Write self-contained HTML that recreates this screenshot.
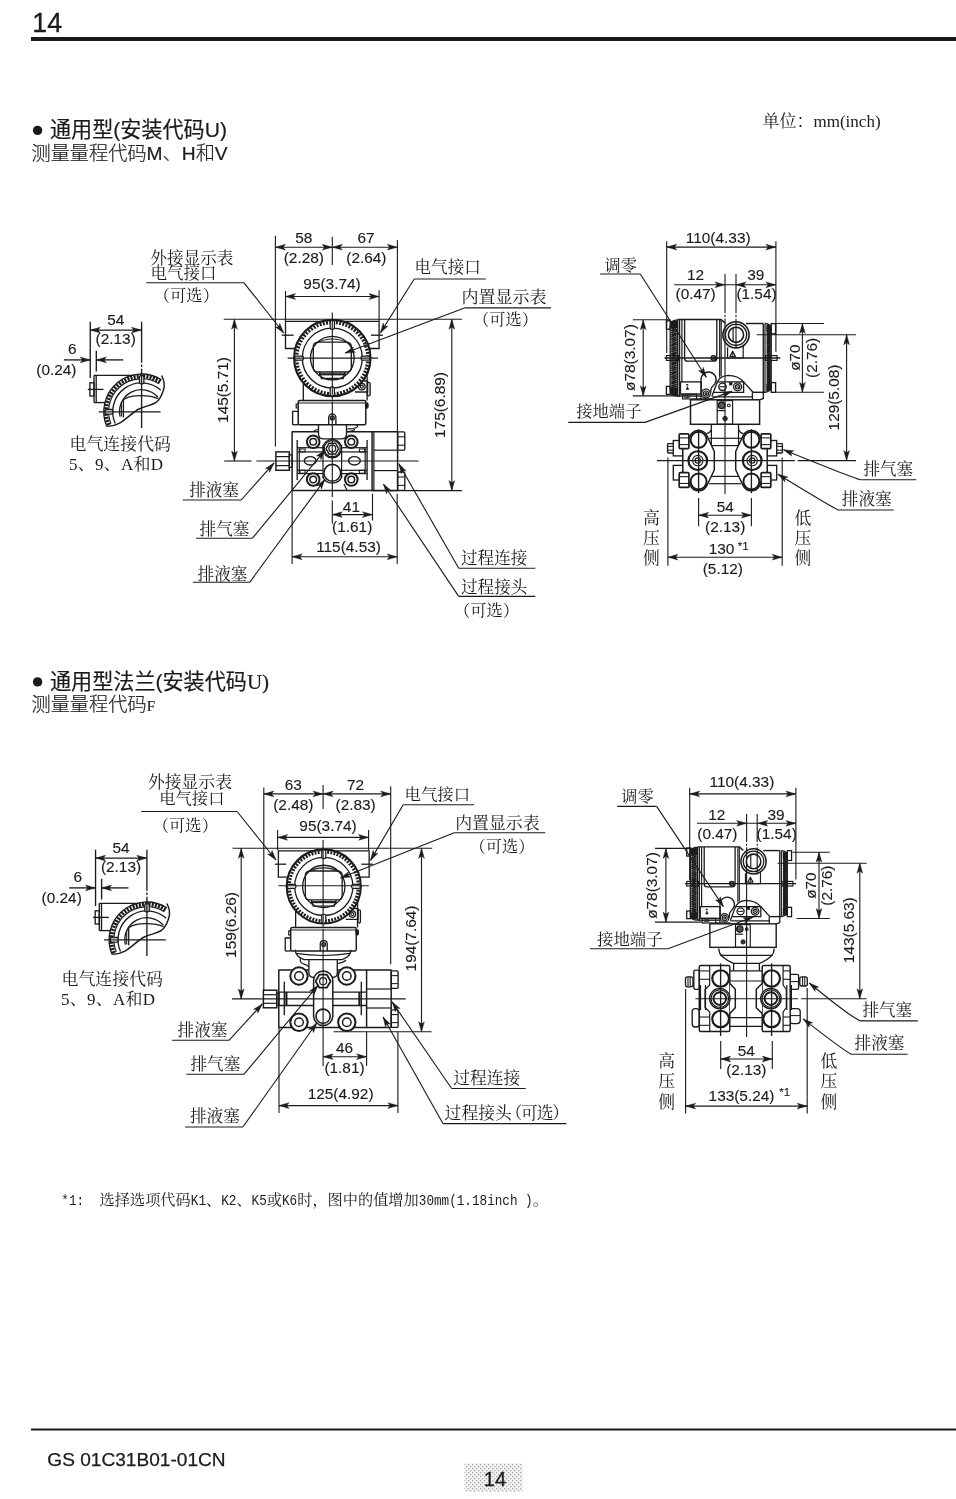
<!DOCTYPE html>
<html lang="zh-CN">
<head>
<meta charset="utf-8">
<title>GS 01C31B01-01CN - 14</title>
<style>
html,body{margin:0;padding:0;background:#fff;}
body{width:956px;height:1499px;overflow:hidden;position:relative;}
svg{position:absolute;left:0;top:0;display:block;will-change:transform;}
text{white-space:pre;}
</style>
</head>
<body>
<svg width="956" height="1499" viewBox="0 0 956 1499">
<text x="32.3" y="31.8" font-family='"Liberation Sans", "Noto Sans CJK SC", sans-serif' font-size="26.8" text-anchor="start" fill="#1b1b1b" stroke="#1b1b1b" stroke-width="0.3">14</text>
<rect x="31" y="37" width="925" height="4" rx="0" fill="#1b1b1b" stroke="#1b1b1b" stroke-width="0"/>
<circle cx="37.6" cy="130.4" r="4.7" fill="#1b1b1b" stroke="#1b1b1b" stroke-width="0"/>
<text x="50" y="137" font-family='"Liberation Sans", "Noto Sans CJK SC", sans-serif' font-size="21.1" text-anchor="start" fill="#1b1b1b" stroke="#1b1b1b" stroke-width="0.2">通用型(安装代码U)</text>
<text x="31.5" y="159.5" font-family='"Liberation Sans", "Noto Sans CJK SC", sans-serif' font-size="19.2" text-anchor="start" fill="#1b1b1b" font-weight="300" stroke="#1b1b1b" stroke-width="0.2">测量量程代码M、H和V</text>
<text x="762.5" y="126.8" font-family='"Liberation Serif", "Noto Serif CJK SC", serif' font-size="17" text-anchor="start" fill="#1b1b1b" >单位：mm(inch)</text>
<circle cx="37.6" cy="681.9" r="4.7" fill="#1b1b1b" stroke="#1b1b1b" stroke-width="0"/>
<text x="50" y="688.5" font-family='"Liberation Sans", "Noto Sans CJK SC", sans-serif' font-size="21.1" text-anchor="start" fill="#1b1b1b" stroke="#1b1b1b" stroke-width="0.2">通用型法兰(安装代码<tspan font-family='"Liberation Serif",serif'>U)</tspan></text>
<text x="31.5" y="711" font-family='"Liberation Sans", "Noto Sans CJK SC", sans-serif' font-size="19.2" text-anchor="start" fill="#1b1b1b" font-weight="300" stroke="#1b1b1b" stroke-width="0.2">测量量程代码<tspan font-family='"Liberation Serif",serif' font-size="15">F</tspan></text>
<text transform="translate(61.3 1205.4) scale(1 1.16)" font-family='"Liberation Mono", monospace' font-size="12.66" fill="#1b1b1b">*1:</text>
<text x="99.6" y="1205.4" font-family='"Noto Serif CJK SC", serif' font-size="15.2" fill="#1b1b1b">选择选项代码</text>
<text transform="translate(190.8 1205.4) scale(1 1.16)" font-family='"Liberation Mono", monospace' font-size="12.66" fill="#1b1b1b">K1</text>
<text x="206" y="1205.4" font-family='"Noto Serif CJK SC", serif' font-size="15.2" fill="#1b1b1b">、</text>
<text transform="translate(221.2 1205.4) scale(1 1.16)" font-family='"Liberation Mono", monospace' font-size="12.66" fill="#1b1b1b">K2</text>
<text x="236.4" y="1205.4" font-family='"Noto Serif CJK SC", serif' font-size="15.2" fill="#1b1b1b">、</text>
<text transform="translate(251.6 1205.4) scale(1 1.16)" font-family='"Liberation Mono", monospace' font-size="12.66" fill="#1b1b1b">K5</text>
<text x="266.8" y="1205.4" font-family='"Noto Serif CJK SC", serif' font-size="15.2" fill="#1b1b1b">或</text>
<text transform="translate(282 1205.4) scale(1 1.16)" font-family='"Liberation Mono", monospace' font-size="12.66" fill="#1b1b1b">K6</text>
<text x="297.2" y="1205.4" font-family='"Noto Serif CJK SC", serif' font-size="15.2" fill="#1b1b1b">时，图中的值增加</text>
<text transform="translate(418.8 1205.4) scale(1 1.16)" font-family='"Liberation Mono", monospace' font-size="12.66" fill="#1b1b1b">30mm(1.18inch )</text>
<text x="532.8" y="1205.4" font-family='"Noto Serif CJK SC", serif' font-size="15.2" fill="#1b1b1b">。</text>
<line x1="31" y1="1429.5" x2="956" y2="1429.5" stroke="#1b1b1b" stroke-width="1.79"/>
<text x="47.3" y="1466" font-family='"Liberation Sans", "Noto Sans CJK SC", sans-serif' font-size="19.1" text-anchor="start" fill="#1b1b1b" stroke="#1b1b1b" stroke-width="0.25">GS 01C31B01-01CN</text>
<defs><pattern id="dots" width="4" height="4" patternUnits="userSpaceOnUse"><rect width="4" height="4" fill="#f4f4f4"/><rect x="0" y="0" width="1.3" height="1.3" fill="#a8a8a8"/><rect x="2" y="2" width="1.3" height="1.3" fill="#a8a8a8"/></pattern></defs>
<rect x="464.5" y="1463.5" width="58" height="28.5" fill="url(#dots)"/>
<text x="495" y="1485.8" font-family='"Liberation Sans", "Noto Sans CJK SC", sans-serif' font-size="20.2" text-anchor="middle" fill="#1b1b1b" stroke="#1b1b1b" stroke-width="0.3">14</text>
<line x1="94" y1="375.4" x2="133" y2="375.4" stroke="#1b1b1b" stroke-width="1.34"/>
<line x1="94" y1="375.3" x2="94" y2="402.6" stroke="#1b1b1b" stroke-width="1.34"/>
<line x1="96.2" y1="375.3" x2="96.2" y2="402.6" stroke="#1b1b1b" stroke-width="1.34"/>
<line x1="94" y1="402.6" x2="105.5" y2="402.6" stroke="#1b1b1b" stroke-width="1.34"/>
<rect x="89.9" y="382.8" width="4.1" height="13.2" rx="0" fill="none" stroke="#1b1b1b" stroke-width="1.34"/>
<line x1="87.8" y1="389.4" x2="103.5" y2="389.4" stroke="#1b1b1b" stroke-width="1.34"/>
<path d="M106.8 426.43 A37.7 37.7 0 0 1 161.48 379.73" fill="none" stroke="#1b1b1b" stroke-width="1.34" />
<path d="M110.22 423.4 L106.47 424.8 M109.28 420.5 L105.42 421.55 M108.61 417.53 L104.67 418.23 M108.22 414.51 L104.23 414.85 M108.1 411.47 L104.1 411.45 M108.26 408.43 L104.28 408.04 M108.7 405.42 L104.77 404.67 M109.4 402.46 L105.56 401.36 M110.38 399.58 L106.65 398.13 M111.61 396.8 L108.03 395.01 M113.09 394.14 L109.69 392.04 M114.81 391.63 L111.61 389.22 M116.74 389.28 L113.78 386.59 M118.89 387.12 L116.18 384.17 M121.22 385.16 L118.79 381.98 M123.72 383.43 L121.59 380.04 M126.37 381.93 L124.55 378.36 M129.14 380.67 L127.66 376.96 M132.01 379.68 L130.88 375.84 M134.97 378.94 L134.19 375.02 M137.98 378.49 L137.55 374.51 M141.01 378.3 L140.96 374.3 M144.06 378.4 L144.36 374.41 M147.08 378.77 L147.74 374.82 M150.05 379.41 L151.07 375.55 M152.95 380.33 L154.33 376.57 M155.76 381.5 L157.47 377.88 M158.45 382.92 L160.48 379.48" fill="none" stroke="#1b1b1b" stroke-width="2.08" />
<path d="M111 424.02 A32.9 32.9 0 0 1 158.93 383.8" fill="none" stroke="#1b1b1b" stroke-width="1.07" />
<path d="M115.19 423.41 A28.8 28.8 0 0 1 160.77 390.3" fill="none" stroke="#1b1b1b" stroke-width="1.34" />
<path d="M120.06 416.65 A22 22 0 0 1 157.85 396.98" fill="none" stroke="#1b1b1b" stroke-width="1.34" />
<path d="M161.6 375.5 C164.5 381 165 386 163.3 390.5 C161.5 395.5 160.5 399.5 156 402.5 C151 405.5 145 406.2 139 409 C129 414 122 426.5 107.2 426.2" fill="none" stroke="#1b1b1b" stroke-width="1.47" />
<path d="M123.6 399.5 C131 394.5 149 394.5 158.3 398.6" fill="none" stroke="#1b1b1b" stroke-width="1.34" />
<line x1="123.4" y1="399.5" x2="123.4" y2="417.3" stroke="#1b1b1b" stroke-width="1.34"/>
<line x1="121.4" y1="402.5" x2="121.4" y2="416.5" stroke="#1b1b1b" stroke-width="1.07"/>
<rect x="139.5" y="375.6" width="4.4" height="8.2" rx="1.5" fill="#fff" stroke="#1b1b1b" stroke-width="1.34"/>
<rect x="105" y="409.5" width="8" height="4.6" rx="1.5" fill="#fff" stroke="#1b1b1b" stroke-width="1.34"/>
<line x1="98.7" y1="411.9" x2="160.5" y2="411.9" stroke="#1b1b1b" stroke-width="1.34"/>
<line x1="141.6" y1="321.7" x2="141.6" y2="428" stroke="#1b1b1b" stroke-width="1.34" stroke-dasharray="41 1.8 2.4 1.8 100"/>
<line x1="90.25" y1="321.7" x2="90.25" y2="378" stroke="#1b1b1b" stroke-width="1.34"/>
<line x1="90.25" y1="330.1" x2="141.5" y2="330.1" stroke="#1b1b1b" stroke-width="1.34"/>
<path d="M90.25 330.1 L100.25 327.2 L98.05 330.1 L100.25 333 Z" fill="#1b1b1b" stroke="#1b1b1b" stroke-width="0.4"/>
<path d="M141.5 330.1 L131.5 333 L133.7 330.1 L131.5 327.2 Z" fill="#1b1b1b" stroke="#1b1b1b" stroke-width="0.4"/>
<text x="0" y="0" transform="translate(115.7 324.6) scale(1.1 1)" font-family='"Liberation Sans", "Noto Sans CJK SC", sans-serif' font-size="14" text-anchor="middle" fill="#1b1b1b" stroke="#1b1b1b" stroke-width="0.12">54</text>
<text x="0" y="0" transform="translate(115.7 344.2) scale(1.1 1)" font-family='"Liberation Sans", "Noto Sans CJK SC", sans-serif' font-size="14" text-anchor="middle" fill="#1b1b1b" stroke="#1b1b1b" stroke-width="0.12">(2.13)</text>
<text x="0" y="0" transform="translate(72.4 354.4) scale(1.1 1)" font-family='"Liberation Sans", "Noto Sans CJK SC", sans-serif' font-size="14" text-anchor="middle" fill="#1b1b1b" stroke="#1b1b1b" stroke-width="0.12">6</text>
<text x="0" y="0" transform="translate(56.4 374.6) scale(1.1 1)" font-family='"Liberation Sans", "Noto Sans CJK SC", sans-serif' font-size="14" text-anchor="middle" fill="#1b1b1b" stroke="#1b1b1b" stroke-width="0.12">(0.24)</text>
<line x1="63.9" y1="359.9" x2="90.25" y2="359.9" stroke="#1b1b1b" stroke-width="1.34"/>
<path d="M90.25 359.9 L80.25 362.8 L82.45 359.9 L80.25 357 Z" fill="#1b1b1b" stroke="#1b1b1b" stroke-width="0.4"/>
<line x1="96.3" y1="359.9" x2="123.2" y2="359.9" stroke="#1b1b1b" stroke-width="1.34"/>
<path d="M96.3 359.9 L106.3 357 L104.1 359.9 L106.3 362.8 Z" fill="#1b1b1b" stroke="#1b1b1b" stroke-width="0.4"/>
<line x1="96.3" y1="350.8" x2="96.3" y2="371.5" stroke="#1b1b1b" stroke-width="1.34"/>
<text x="69.6" y="450" font-family='"Noto Serif CJK SC", "Liberation Serif", serif' font-size="16.9" text-anchor="start" fill="#1b1b1b" >电气连接代码</text>
<text x="69" y="469.5" font-family='"Liberation Serif", "Noto Serif CJK SC", serif' font-size="17" text-anchor="start" fill="#1b1b1b" letter-spacing="0.25">5、9、A和D</text>
<path d="M296 348.5 L285.5 348.5 L285.5 321.4 L322 321.4" fill="none" stroke="#1b1b1b" stroke-width="1.34" />
<path d="M368.6 348.5 L379.1 348.5 L379.1 321.4 L342.6 321.4" fill="none" stroke="#1b1b1b" stroke-width="1.34" />
<line x1="281.8" y1="335.2" x2="293.6" y2="335.2" stroke="#1b1b1b" stroke-width="1.34"/>
<line x1="371" y1="335.2" x2="382.8" y2="335.2" stroke="#1b1b1b" stroke-width="1.34"/>
<circle cx="332.3" cy="358.1" r="38.2" fill="none" stroke="#1b1b1b" stroke-width="2.14"/>
<circle cx="332.3" cy="358.1" r="35.6" fill="none" stroke="#1b1b1b" stroke-width="3.35" stroke-dasharray="1.95 1.3399"/>
<circle cx="332.3" cy="358.1" r="30" fill="none" stroke="#1b1b1b" stroke-width="1.34"/>
<circle cx="332.3" cy="358.1" r="21.8" fill="none" stroke="#1b1b1b" stroke-width="1.34"/>
<rect x="330.2" y="320.4" width="4.2" height="9.0" rx="1.7" fill="#fff" stroke="#1b1b1b" stroke-width="1.25" transform="rotate(0 332.3 358.1)"/>
<rect x="330.2" y="320.4" width="4.2" height="9.0" rx="1.7" fill="#fff" stroke="#1b1b1b" stroke-width="1.25" transform="rotate(90 332.3 358.1)"/>
<rect x="330.2" y="320.4" width="4.2" height="9.0" rx="1.7" fill="#fff" stroke="#1b1b1b" stroke-width="1.25" transform="rotate(180 332.3 358.1)"/>
<rect x="330.2" y="320.4" width="4.2" height="9.0" rx="1.7" fill="#fff" stroke="#1b1b1b" stroke-width="1.25" transform="rotate(270 332.3 358.1)"/>
<path d="M313.3 346.5 Q313.3 342.6 318 342.2 L346.6 342.2 Q351.3 342.6 351.3 346.5 L351.3 368 Q351.3 372 346.6 372 L318 372 Q313.3 372 313.3 368 Z" fill="none" stroke="#1b1b1b" stroke-width="1.34" />
<path d="M315.5 343.5 Q332.3 334.5 349.1 343.5" fill="none" stroke="#1b1b1b" stroke-width="1.21" />
<path d="M319.5 372 L321.5 378.5 L343.1 378.5 L345.1 372" fill="none" stroke="#1b1b1b" stroke-width="1.34" />
<line x1="319" y1="374.3" x2="345.6" y2="374.3" stroke="#1b1b1b" stroke-width="2.14"/>
<line x1="303.3" y1="383.8" x2="303.3" y2="400.4" stroke="#1b1b1b" stroke-width="1.34"/>
<line x1="367.1" y1="372" x2="367.1" y2="400.4" stroke="#1b1b1b" stroke-width="1.34"/>
<circle cx="361.8" cy="386.6" r="3.3" fill="none" stroke="#1b1b1b" stroke-width="1.34"/>
<circle cx="361.8" cy="386.6" r="1.5" fill="none" stroke="#1b1b1b" stroke-width="1.21"/>
<path d="M355 392 L367.5 392 L367.5 381 L364 381" fill="none" stroke="#1b1b1b" stroke-width="1.34" />
<rect x="367.5" y="382.3" width="2.6" height="13.5" rx="1.2" fill="none" stroke="#1b1b1b" stroke-width="1.34"/>
<rect x="298.2" y="400.4" width="67.6" height="24.3" rx="1.5" fill="none" stroke="#1b1b1b" stroke-width="1.47"/>
<line x1="298.2" y1="403" x2="365.8" y2="403" stroke="#1b1b1b" stroke-width="1.07"/>
<path d="M298.2 411.3 L292.6 411.3 L292.6 424.7" fill="none" stroke="#1b1b1b" stroke-width="1.34" />
<line x1="292.6" y1="424.7" x2="298.2" y2="424.7" stroke="#1b1b1b" stroke-width="1.34"/>
<path d="M298.2 404 L296.2 404 L296.2 408 L298.2 408" fill="none" stroke="#1b1b1b" stroke-width="1.21" />
<ellipse cx="366.8" cy="405.5" rx="1.3" ry="2.6" fill="#1b1b1b" stroke="#1b1b1b" stroke-width="1.21"/>
<path d="M328.7 424.7 L328.7 417.5 A3.6 3.6 0 0 1 335.9 417.5 L335.9 424.7" fill="none" stroke="#1b1b1b" stroke-width="1.34" />
<circle cx="332.3" cy="417.9" r="2" fill="#777" stroke="#1b1b1b" stroke-width="1.21"/>
<path d="M318.5 431.8 L292.1 431.8 L292.1 490.4 L372.1 490.4 L372.1 431.8 L346.5 431.8" fill="none" stroke="#1b1b1b" stroke-width="1.47" stroke-linejoin="round"/>
<path d="M318.5 424.7 L318.5 434 Q318.5 438.9 323.5 438.9 L341.3 438.9 Q346.5 438.9 346.5 434 L346.5 424.7" fill="none" stroke="#1b1b1b" stroke-width="1.34" />
<path d="M318.5 429.5 Q314.5 429.5 313.5 431.8" fill="none" stroke="#1b1b1b" stroke-width="1.21" />
<path d="M346.5 429 Q354 429 357 427.3 Q358.5 426 356 424.7" fill="none" stroke="#1b1b1b" stroke-width="1.21" />
<path d="M346.5 431.8 Q352 431.5 355 429.5" fill="none" stroke="#1b1b1b" stroke-width="1.21" />
<line x1="297.2" y1="440" x2="297.2" y2="480" stroke="#1b1b1b" stroke-width="1.34"/>
<line x1="367.1" y1="440" x2="367.1" y2="480" stroke="#1b1b1b" stroke-width="1.34"/>
<line x1="299.3" y1="447.7" x2="299.3" y2="473.6" stroke="#1b1b1b" stroke-width="1.21"/>
<line x1="365.2" y1="447.7" x2="365.2" y2="473.6" stroke="#1b1b1b" stroke-width="1.21"/>
<line x1="297.2" y1="447.7" x2="323" y2="447.7" stroke="#1b1b1b" stroke-width="1.21"/>
<line x1="341.6" y1="447.7" x2="367.1" y2="447.7" stroke="#1b1b1b" stroke-width="1.21"/>
<line x1="297.2" y1="451.9" x2="323" y2="451.9" stroke="#1b1b1b" stroke-width="1.21"/>
<line x1="341.6" y1="451.9" x2="367.1" y2="451.9" stroke="#1b1b1b" stroke-width="1.21"/>
<line x1="297.2" y1="470.3" x2="323" y2="470.3" stroke="#1b1b1b" stroke-width="1.21"/>
<line x1="341.6" y1="470.3" x2="367.1" y2="470.3" stroke="#1b1b1b" stroke-width="1.21"/>
<line x1="297.2" y1="473.6" x2="323" y2="473.6" stroke="#1b1b1b" stroke-width="1.21"/>
<line x1="341.6" y1="473.6" x2="367.1" y2="473.6" stroke="#1b1b1b" stroke-width="1.21"/>
<rect x="299.9" y="449" width="5.2" height="2.9" rx="0" fill="none" stroke="#1b1b1b" stroke-width="1.07"/>
<rect x="299.9" y="470.3" width="5.2" height="2.9" rx="0" fill="none" stroke="#1b1b1b" stroke-width="1.07"/>
<rect x="359.4" y="449" width="5.2" height="2.9" rx="0" fill="none" stroke="#1b1b1b" stroke-width="1.07"/>
<rect x="359.4" y="470.3" width="5.2" height="2.9" rx="0" fill="none" stroke="#1b1b1b" stroke-width="1.07"/>
<ellipse cx="310.2" cy="460.8" rx="5.9" ry="4.2" fill="none" stroke="#1b1b1b" stroke-width="1.34"/>
<ellipse cx="354.4" cy="460.8" rx="5.9" ry="4.2" fill="none" stroke="#1b1b1b" stroke-width="1.34"/>
<line x1="323" y1="445" x2="323" y2="478" stroke="#1b1b1b" stroke-width="1.21"/>
<line x1="341.6" y1="445" x2="341.6" y2="478" stroke="#1b1b1b" stroke-width="1.21"/>
<circle cx="313.2" cy="441.8" r="6.3" fill="#fff" stroke="#1b1b1b" stroke-width="2.03"/>
<circle cx="313.2" cy="441.8" r="3.3" fill="none" stroke="#1b1b1b" stroke-width="1.47"/>
<circle cx="351.3" cy="441.8" r="6.3" fill="#fff" stroke="#1b1b1b" stroke-width="2.03"/>
<circle cx="351.3" cy="441.8" r="3.3" fill="none" stroke="#1b1b1b" stroke-width="1.47"/>
<circle cx="313.2" cy="479.5" r="6.3" fill="#fff" stroke="#1b1b1b" stroke-width="2.03"/>
<circle cx="313.2" cy="479.5" r="3.3" fill="none" stroke="#1b1b1b" stroke-width="1.47"/>
<circle cx="351.3" cy="479.5" r="6.3" fill="#fff" stroke="#1b1b1b" stroke-width="2.03"/>
<circle cx="351.3" cy="479.5" r="3.3" fill="none" stroke="#1b1b1b" stroke-width="1.47"/>
<circle cx="332.3" cy="448.6" r="9.2" fill="#fff" stroke="#1b1b1b" stroke-width="1.47"/>
<circle cx="332.3" cy="448.6" r="8" fill="none" stroke="#1b1b1b" stroke-width="1.07"/>
<path d="M338.6 448.6 L335.45 454.06 L329.15 454.06 L326 448.6 L329.15 443.14 L335.45 443.14 Z" fill="none" stroke="#1b1b1b" stroke-width="1.47" stroke-linejoin="round"/>
<circle cx="332.3" cy="448.6" r="3.4" fill="none" stroke="#1b1b1b" stroke-width="1.21"/>
<circle cx="332.3" cy="472.8" r="8.4" fill="#fff" stroke="#1b1b1b" stroke-width="1.61"/>
<path d="M341.98 476.32 A10.3 10.3 0 0 1 322.62 476.32" fill="none" stroke="#1b1b1b" stroke-width="1.34" />
<path d="M344 484 L347 490.4" fill="none" stroke="#1b1b1b" stroke-width="1.21" />
<rect x="275.9" y="451.9" width="13.4" height="18.4" rx="0" fill="#fff" stroke="#1b1b1b" stroke-width="1.47"/>
<line x1="275.9" y1="456.6" x2="289.3" y2="456.6" stroke="#1b1b1b" stroke-width="1.21"/>
<line x1="275.9" y1="465.6" x2="289.3" y2="465.6" stroke="#1b1b1b" stroke-width="1.21"/>
<rect x="289.3" y="454.8" width="2.8" height="12.6" rx="0" fill="none" stroke="#1b1b1b" stroke-width="1.21"/>
<line x1="373.9" y1="431.8" x2="373.9" y2="490.4" stroke="#1b1b1b" stroke-width="1.21"/>
<path d="M372.1 431.8 L397.6 431.8 L397.6 490.4 L372.1 490.4" fill="none" stroke="#1b1b1b" stroke-width="1.47" stroke-linejoin="round"/>
<line x1="373.9" y1="450.2" x2="397.6" y2="450.2" stroke="#1b1b1b" stroke-width="1.21"/>
<line x1="373.9" y1="470.6" x2="397.6" y2="470.6" stroke="#1b1b1b" stroke-width="1.21"/>
<rect x="397.6" y="431.8" width="7.2" height="18.4" rx="1.2" fill="none" stroke="#1b1b1b" stroke-width="1.34"/>
<line x1="397.6" y1="436.8" x2="404.8" y2="436.8" stroke="#1b1b1b" stroke-width="1.07"/>
<line x1="397.6" y1="445.2" x2="404.8" y2="445.2" stroke="#1b1b1b" stroke-width="1.07"/>
<rect x="397.6" y="472" width="7.2" height="18.4" rx="1.2" fill="none" stroke="#1b1b1b" stroke-width="1.34"/>
<line x1="397.6" y1="477" x2="404.8" y2="477" stroke="#1b1b1b" stroke-width="1.07"/>
<line x1="397.6" y1="485.4" x2="404.8" y2="485.4" stroke="#1b1b1b" stroke-width="1.07"/>
<line x1="332.3" y1="312.5" x2="332.3" y2="497" stroke="#1b1b1b" stroke-width="1.12" stroke-dasharray="82 2 3 2 200"/>
<line x1="287.6" y1="358.1" x2="378" y2="358.1" stroke="#1b1b1b" stroke-width="1.12"/>
<line x1="224.2" y1="461" x2="251.5" y2="461" stroke="#1b1b1b" stroke-width="1.12"/>
<line x1="256.3" y1="461" x2="418.6" y2="461" stroke="#1b1b1b" stroke-width="1.12"/>
<line x1="275.4" y1="235.7" x2="275.4" y2="446.4" stroke="#1b1b1b" stroke-width="1.12"/>
<line x1="397.4" y1="240" x2="397.4" y2="431" stroke="#1b1b1b" stroke-width="1.12"/>
<line x1="332.3" y1="236.7" x2="332.3" y2="265" stroke="#1b1b1b" stroke-width="1.12"/>
<line x1="275.4" y1="247.2" x2="332.3" y2="247.2" stroke="#1b1b1b" stroke-width="1.12"/>
<path d="M275.4 247.2 L285.4 244.3 L283.2 247.2 L285.4 250.1 Z" fill="#1b1b1b" stroke="#1b1b1b" stroke-width="0.4"/>
<path d="M332.3 247.2 L322.3 250.1 L324.5 247.2 L322.3 244.3 Z" fill="#1b1b1b" stroke="#1b1b1b" stroke-width="0.4"/>
<line x1="332.3" y1="247.2" x2="397.4" y2="247.2" stroke="#1b1b1b" stroke-width="1.12"/>
<path d="M332.3 247.2 L342.3 244.3 L340.1 247.2 L342.3 250.1 Z" fill="#1b1b1b" stroke="#1b1b1b" stroke-width="0.4"/>
<path d="M397.4 247.2 L387.4 250.1 L389.6 247.2 L387.4 244.3 Z" fill="#1b1b1b" stroke="#1b1b1b" stroke-width="0.4"/>
<text x="0" y="0" transform="translate(303.8 243.2) scale(1.1 1)" font-family='"Liberation Sans", "Noto Sans CJK SC", sans-serif' font-size="14" text-anchor="middle" fill="#1b1b1b" stroke="#1b1b1b" stroke-width="0.12">58</text>
<text x="0" y="0" transform="translate(303.8 263) scale(1.1 1)" font-family='"Liberation Sans", "Noto Sans CJK SC", sans-serif' font-size="14" text-anchor="middle" fill="#1b1b1b" stroke="#1b1b1b" stroke-width="0.12">(2.28)</text>
<text x="0" y="0" transform="translate(366 243.2) scale(1.1 1)" font-family='"Liberation Sans", "Noto Sans CJK SC", sans-serif' font-size="14" text-anchor="middle" fill="#1b1b1b" stroke="#1b1b1b" stroke-width="0.12">67</text>
<text x="0" y="0" transform="translate(366.4 263) scale(1.1 1)" font-family='"Liberation Sans", "Noto Sans CJK SC", sans-serif' font-size="14" text-anchor="middle" fill="#1b1b1b" stroke="#1b1b1b" stroke-width="0.12">(2.64)</text>
<line x1="285.5" y1="291" x2="285.5" y2="321.4" stroke="#1b1b1b" stroke-width="1.12"/>
<line x1="379.1" y1="290.3" x2="379.1" y2="321.4" stroke="#1b1b1b" stroke-width="1.12"/>
<line x1="285.5" y1="296.5" x2="379.1" y2="296.5" stroke="#1b1b1b" stroke-width="1.12"/>
<path d="M285.5 296.5 L295.5 293.6 L293.3 296.5 L295.5 299.4 Z" fill="#1b1b1b" stroke="#1b1b1b" stroke-width="0.4"/>
<path d="M379.1 296.5 L369.1 299.4 L371.3 296.5 L369.1 293.6 Z" fill="#1b1b1b" stroke="#1b1b1b" stroke-width="0.4"/>
<text x="0" y="0" transform="translate(332 289.2) scale(1.1 1)" font-family='"Liberation Sans", "Noto Sans CJK SC", sans-serif' font-size="14" text-anchor="middle" fill="#1b1b1b" stroke="#1b1b1b" stroke-width="0.12">95(3.74)</text>
<line x1="223.7" y1="319.2" x2="461.9" y2="319.2" stroke="#1b1b1b" stroke-width="1.12"/>
<line x1="234.4" y1="319.2" x2="234.4" y2="461" stroke="#1b1b1b" stroke-width="1.12"/>
<path d="M234.4 319.2 L237.3 329.2 L234.4 327 L231.5 329.2 Z" fill="#1b1b1b" stroke="#1b1b1b" stroke-width="0.4"/>
<path d="M234.4 461 L231.5 451 L234.4 453.2 L237.3 451 Z" fill="#1b1b1b" stroke="#1b1b1b" stroke-width="0.4"/>
<text x="0" y="0" transform="translate(228.3 390) rotate(-90) scale(1.1 1)" font-family='"Liberation Sans", "Noto Sans CJK SC", sans-serif' font-size="14" text-anchor="middle" fill="#1b1b1b" stroke="#1b1b1b" stroke-width="0.12">145(5.71)</text>
<line x1="451.8" y1="319.2" x2="451.8" y2="490.6" stroke="#1b1b1b" stroke-width="1.12"/>
<path d="M451.8 319.2 L454.7 329.2 L451.8 327 L448.9 329.2 Z" fill="#1b1b1b" stroke="#1b1b1b" stroke-width="0.4"/>
<path d="M451.8 490.6 L448.9 480.6 L451.8 482.8 L454.7 480.6 Z" fill="#1b1b1b" stroke="#1b1b1b" stroke-width="0.4"/>
<text x="0" y="0" transform="translate(445 405) rotate(-90) scale(1.1 1)" font-family='"Liberation Sans", "Noto Sans CJK SC", sans-serif' font-size="14" text-anchor="middle" fill="#1b1b1b" stroke="#1b1b1b" stroke-width="0.12">175(6.89)</text>
<line x1="372.1" y1="490.6" x2="461.9" y2="490.6" stroke="#1b1b1b" stroke-width="1.12"/>
<line x1="332.3" y1="500.4" x2="332.3" y2="523.8" stroke="#1b1b1b" stroke-width="1.12"/>
<line x1="372.5" y1="493.7" x2="372.5" y2="520.5" stroke="#1b1b1b" stroke-width="1.12"/>
<line x1="332.3" y1="514.6" x2="372.5" y2="514.6" stroke="#1b1b1b" stroke-width="1.12"/>
<path d="M332.3 514.6 L342.3 511.7 L340.1 514.6 L342.3 517.5 Z" fill="#1b1b1b" stroke="#1b1b1b" stroke-width="0.4"/>
<path d="M372.5 514.6 L362.5 517.5 L364.7 514.6 L362.5 511.7 Z" fill="#1b1b1b" stroke="#1b1b1b" stroke-width="0.4"/>
<text x="0" y="0" transform="translate(351.4 512.2) scale(1.1 1)" font-family='"Liberation Sans", "Noto Sans CJK SC", sans-serif' font-size="14" text-anchor="middle" fill="#1b1b1b" stroke="#1b1b1b" stroke-width="0.12">41</text>
<text x="0" y="0" transform="translate(352.2 531.5) scale(1.1 1)" font-family='"Liberation Sans", "Noto Sans CJK SC", sans-serif' font-size="14" text-anchor="middle" fill="#1b1b1b" stroke="#1b1b1b" stroke-width="0.12">(1.61)</text>
<line x1="292.1" y1="490.4" x2="292.1" y2="564" stroke="#1b1b1b" stroke-width="1.12"/>
<line x1="397.2" y1="493.7" x2="397.2" y2="564" stroke="#1b1b1b" stroke-width="1.12"/>
<line x1="292.1" y1="556.8" x2="397.2" y2="556.8" stroke="#1b1b1b" stroke-width="1.12"/>
<path d="M292.1 556.8 L302.1 553.9 L299.9 556.8 L302.1 559.7 Z" fill="#1b1b1b" stroke="#1b1b1b" stroke-width="0.4"/>
<path d="M397.2 556.8 L387.2 559.7 L389.4 556.8 L387.2 553.9 Z" fill="#1b1b1b" stroke="#1b1b1b" stroke-width="0.4"/>
<text x="0" y="0" transform="translate(348.5 552.4) scale(1.1 1)" font-family='"Liberation Sans", "Noto Sans CJK SC", sans-serif' font-size="14" text-anchor="middle" fill="#1b1b1b" stroke="#1b1b1b" stroke-width="0.12">115(4.53)</text>
<text x="150.5" y="263.6" font-family='"Noto Serif CJK SC", "Liberation Serif", serif' font-size="16.6" text-anchor="start" fill="#1b1b1b" >外接显示表</text>
<text x="150.5" y="279.2" font-family='"Noto Serif CJK SC", "Liberation Serif", serif' font-size="16.5" text-anchor="start" fill="#1b1b1b" >电气接口</text>
<text x="153.8" y="300.5" font-family='"Noto Serif CJK SC", "Liberation Serif", serif' font-size="16.3" text-anchor="start" fill="#1b1b1b" >（可选）</text>
<line x1="146.3" y1="282.8" x2="244" y2="282.8" stroke="#1b1b1b" stroke-width="1.12"/>
<line x1="244" y1="282.8" x2="283.7" y2="333" stroke="#1b1b1b" stroke-width="1.12"/>
<path d="M283.7 333 L275.22 326.96 L278.86 326.88 L279.77 323.36 Z" fill="#1b1b1b" stroke="#1b1b1b" stroke-width="0.4"/>
<text x="414.5" y="272.8" font-family='"Noto Serif CJK SC", "Liberation Serif", serif' font-size="16.6" text-anchor="start" fill="#1b1b1b" >电气接口</text>
<line x1="414.2" y1="279" x2="485.7" y2="279" stroke="#1b1b1b" stroke-width="1.12"/>
<line x1="414.2" y1="279" x2="380.3" y2="333" stroke="#1b1b1b" stroke-width="1.12"/>
<path d="M380.3 333 L383.16 322.99 L384.45 326.39 L388.07 326.07 Z" fill="#1b1b1b" stroke="#1b1b1b" stroke-width="0.4"/>
<text x="461.5" y="303" font-family='"Noto Serif CJK SC", "Liberation Serif", serif' font-size="17" text-anchor="start" fill="#1b1b1b" >内置显示表</text>
<line x1="464.4" y1="307.9" x2="551" y2="307.9" stroke="#1b1b1b" stroke-width="1.12"/>
<line x1="464.4" y1="307.9" x2="345.1" y2="353.1" stroke="#1b1b1b" stroke-width="1.12"/>
<path d="M345.1 353.1 L353.42 346.85 L352.39 350.34 L355.48 352.27 Z" fill="#1b1b1b" stroke="#1b1b1b" stroke-width="0.4"/>
<text x="473" y="325" font-family='"Noto Serif CJK SC", "Liberation Serif", serif' font-size="16.3" text-anchor="start" fill="#1b1b1b" >（可选）</text>
<text x="189.2" y="495.5" font-family='"Noto Serif CJK SC", "Liberation Serif", serif' font-size="16.6" text-anchor="start" fill="#1b1b1b" >排液塞</text>
<line x1="182.8" y1="500" x2="241.2" y2="500" stroke="#1b1b1b" stroke-width="1.12"/>
<line x1="241.2" y1="500" x2="274.1" y2="462.9" stroke="#1b1b1b" stroke-width="1.12"/>
<path d="M274.1 462.9 L269.63 472.31 L268.92 468.74 L265.3 468.46 Z" fill="#1b1b1b" stroke="#1b1b1b" stroke-width="0.4"/>
<text x="199.6" y="535" font-family='"Noto Serif CJK SC", "Liberation Serif", serif' font-size="16.6" text-anchor="start" fill="#1b1b1b" >排气塞</text>
<line x1="196" y1="538.2" x2="252.5" y2="538.2" stroke="#1b1b1b" stroke-width="1.12"/>
<line x1="252.5" y1="538.2" x2="325" y2="450.1" stroke="#1b1b1b" stroke-width="1.12"/>
<path d="M325 450.1 L320.88 459.66 L320.04 456.12 L316.41 455.98 Z" fill="#1b1b1b" stroke="#1b1b1b" stroke-width="0.4"/>
<text x="197.6" y="580.3" font-family='"Noto Serif CJK SC", "Liberation Serif", serif' font-size="16.6" text-anchor="start" fill="#1b1b1b" >排液塞</text>
<line x1="192.8" y1="582.3" x2="249.7" y2="582.3" stroke="#1b1b1b" stroke-width="1.12"/>
<line x1="249.7" y1="582.3" x2="325" y2="479.3" stroke="#1b1b1b" stroke-width="1.12"/>
<path d="M325 479.3 L321.44 489.08 L320.4 485.6 L316.76 485.66 Z" fill="#1b1b1b" stroke="#1b1b1b" stroke-width="0.4"/>
<text x="461" y="564.3" font-family='"Noto Serif CJK SC", "Liberation Serif", serif' font-size="16.6" text-anchor="start" fill="#1b1b1b" >过程连接</text>
<line x1="458.7" y1="568.2" x2="535.3" y2="568.2" stroke="#1b1b1b" stroke-width="1.12"/>
<line x1="458.7" y1="568.2" x2="398.8" y2="463.7" stroke="#1b1b1b" stroke-width="1.12"/>
<path d="M398.8 463.7 L406.29 470.93 L402.68 470.47 L401.26 473.82 Z" fill="#1b1b1b" stroke="#1b1b1b" stroke-width="0.4"/>
<text x="461" y="592.5" font-family='"Noto Serif CJK SC", "Liberation Serif", serif' font-size="16.6" text-anchor="start" fill="#1b1b1b" >过程接头</text>
<line x1="458.7" y1="596.4" x2="535.3" y2="596.4" stroke="#1b1b1b" stroke-width="1.12"/>
<line x1="458.7" y1="596.4" x2="383.4" y2="484" stroke="#1b1b1b" stroke-width="1.12"/>
<path d="M383.4 484 L391.38 490.69 L387.74 490.48 L386.56 493.92 Z" fill="#1b1b1b" stroke="#1b1b1b" stroke-width="0.4"/>
<text x="454" y="616" font-family='"Noto Serif CJK SC", "Liberation Serif", serif' font-size="16.3" text-anchor="start" fill="#1b1b1b" >（可选）</text>
<path d="M677.7 319.8 Q670.6 320 670.2 326 L670.2 390 Q670.6 395.8 677.7 396" fill="none" stroke="#1b1b1b" stroke-width="1.34" />
<path d="M671.2 323.5 L676.8 321.3 M671.2 325.4 L676.8 323.2 M671.2 327.3 L676.8 325.1 M671.2 329.2 L676.8 327 M671.2 331.1 L676.8 328.9 M671.2 333 L676.8 330.8 M671.2 334.9 L676.8 332.7 M671.2 336.8 L676.8 334.6 M671.2 338.7 L676.8 336.5 M671.2 340.6 L676.8 338.4 M671.2 342.5 L676.8 340.3 M671.2 344.4 L676.8 342.2 M671.2 346.3 L676.8 344.1 M671.2 348.2 L676.8 346 M671.2 350.1 L676.8 347.9 M671.2 352 L676.8 349.8 M671.2 353.9 L676.8 351.7 M671.2 355.8 L676.8 353.6 M671.2 357.7 L676.8 355.5 M671.2 359.6 L676.8 357.4 M671.2 361.5 L676.8 359.3 M671.2 363.4 L676.8 361.2 M671.2 365.3 L676.8 363.1 M671.2 367.2 L676.8 365 M671.2 369.1 L676.8 366.9 M671.2 371 L676.8 368.8 M671.2 372.9 L676.8 370.7 M671.2 374.8 L676.8 372.6 M671.2 376.7 L676.8 374.5 M671.2 378.6 L676.8 376.4 M671.2 380.5 L676.8 378.3 M671.2 382.4 L676.8 380.2 M671.2 384.3 L676.8 382.1 M671.2 386.2 L676.8 384 M671.2 388.1 L676.8 385.9 M671.2 390 L676.8 387.8 M671.2 391.9 L676.8 389.7 M671.2 393.8 L676.8 391.6" fill="none" stroke="#1b1b1b" stroke-width="1.63" />
<line x1="674" y1="321" x2="674" y2="328" stroke="#1b1b1b" stroke-width="6.03"/>
<line x1="674" y1="388" x2="674" y2="395" stroke="#1b1b1b" stroke-width="6.03"/>
<rect x="666.4" y="320.8" width="3.8" height="8.4" rx="0" fill="none" stroke="#1b1b1b" stroke-width="1.34"/>
<rect x="666.4" y="386.4" width="3.8" height="8" rx="0" fill="none" stroke="#1b1b1b" stroke-width="1.34"/>
<line x1="677.7" y1="319.8" x2="677.7" y2="396" stroke="#1b1b1b" stroke-width="1.47"/>
<line x1="679.6" y1="319.8" x2="679.6" y2="396" stroke="#1b1b1b" stroke-width="1.21"/>
<line x1="681.9" y1="319.8" x2="681.9" y2="381.9" stroke="#1b1b1b" stroke-width="1.21"/>
<path d="M677.7 319.6 L721.1 319.6 L725.3 323.3" fill="none" stroke="#1b1b1b" stroke-width="1.47" stroke-linejoin="round"/>
<line x1="721.1" y1="319.6" x2="721.1" y2="376.5" stroke="#1b1b1b" stroke-width="1.34"/>
<line x1="719.6" y1="319.6" x2="719.6" y2="377.5" stroke="#1b1b1b" stroke-width="1.07"/>
<line x1="677.7" y1="396" x2="701.2" y2="396" stroke="#1b1b1b" stroke-width="1.47"/>
<path d="M684.6 319.8 L684.6 358.2 Q684.6 361.2 687.6 361.2 L713.8 361.2 Q716.8 361.2 716.8 358.2 L716.8 319.8" fill="none" stroke="#1b1b1b" stroke-width="1.34" />
<circle cx="713.4" cy="357.9" r="2.4" fill="#666" stroke="#1b1b1b" stroke-width="1.21"/>
<line x1="664.5" y1="358" x2="780.3" y2="358" stroke="#1b1b1b" stroke-width="1.34"/>
<rect x="666.4" y="355.6" width="12.2" height="4.8" rx="0" fill="none" stroke="#1b1b1b" stroke-width="1.21"/>
<rect x="765.5" y="355.6" width="11.5" height="4.8" rx="0" fill="none" stroke="#1b1b1b" stroke-width="1.21"/>
<line x1="746" y1="323.5" x2="763.3" y2="323.5" stroke="#1b1b1b" stroke-width="1.47"/>
<line x1="763.3" y1="323.5" x2="763.3" y2="392.3" stroke="#1b1b1b" stroke-width="1.34"/>
<line x1="765" y1="323.5" x2="765" y2="392.3" stroke="#1b1b1b" stroke-width="1.21"/>
<path d="M765 323.5 Q771 323.8 771.2 329 L771.2 386 Q771 391.5 765 392.3" fill="none" stroke="#1b1b1b" stroke-width="1.34" />
<path d="M766.6 327.1 L770.8 325.5 M766.6 328.8 L770.8 327.2 M766.6 330.5 L770.8 328.9 M766.6 332.2 L770.8 330.6 M766.6 333.9 L770.8 332.3 M766.6 335.6 L770.8 334 M766.6 337.3 L770.8 335.7 M766.6 339 L770.8 337.4 M766.6 340.7 L770.8 339.1 M766.6 342.4 L770.8 340.8 M766.6 344.1 L770.8 342.5 M766.6 345.8 L770.8 344.2 M766.6 347.5 L770.8 345.9 M766.6 349.2 L770.8 347.6 M766.6 350.9 L770.8 349.3 M766.6 352.6 L770.8 351 M766.6 354.3 L770.8 352.7 M766.6 356 L770.8 354.4 M766.6 357.7 L770.8 356.1 M766.6 359.4 L770.8 357.8 M766.6 361.1 L770.8 359.5 M766.6 362.8 L770.8 361.2 M766.6 364.5 L770.8 362.9 M766.6 366.2 L770.8 364.6 M766.6 367.9 L770.8 366.3 M766.6 369.6 L770.8 368 M766.6 371.3 L770.8 369.7 M766.6 373 L770.8 371.4 M766.6 374.7 L770.8 373.1 M766.6 376.4 L770.8 374.8 M766.6 378.1 L770.8 376.5 M766.6 379.8 L770.8 378.2 M766.6 381.5 L770.8 379.9 M766.6 383.2 L770.8 381.6 M766.6 384.9 L770.8 383.3 M766.6 386.6 L770.8 385 M766.6 388.3 L770.8 386.7 M766.6 390 L770.8 388.4" fill="none" stroke="#1b1b1b" stroke-width="1.61" />
<line x1="768.6" y1="325" x2="768.6" y2="332" stroke="#1b1b1b" stroke-width="4.29"/>
<line x1="768.6" y1="384" x2="768.6" y2="391" stroke="#1b1b1b" stroke-width="4.29"/>
<rect x="771.2" y="323.6" width="4.4" height="10.2" rx="0" fill="none" stroke="#1b1b1b" stroke-width="1.34"/>
<rect x="771.2" y="382.6" width="4.4" height="9.7" rx="0" fill="none" stroke="#1b1b1b" stroke-width="1.34"/>
<line x1="753" y1="392.3" x2="765" y2="392.3" stroke="#1b1b1b" stroke-width="1.47"/>
<circle cx="736" cy="334.8" r="13.1" fill="#fff" stroke="#1b1b1b" stroke-width="1.61"/>
<circle cx="736" cy="334.8" r="10.7" fill="none" stroke="#1b1b1b" stroke-width="1.34"/>
<circle cx="736" cy="334.8" r="7.6" fill="none" stroke="#1b1b1b" stroke-width="1.61"/>
<line x1="733.1" y1="328" x2="733.1" y2="342" stroke="#1b1b1b" stroke-width="1.21"/>
<path d="M727.6 347.2 L727.6 358 L743.2 358 L743.2 345.5" fill="none" stroke="#1b1b1b" stroke-width="1.21" stroke-linejoin="round"/>
<path d="M732.7 351.2 L730 356.3 L735.4 356.3 Z" fill="none" stroke="#1b1b1b" stroke-width="1.21" stroke-linejoin="round"/>
<line x1="732.7" y1="353" x2="732.7" y2="355.4" stroke="#1b1b1b" stroke-width="1.07"/>
<rect x="680.5" y="381.9" width="20.7" height="12.2" rx="0" fill="none" stroke="#1b1b1b" stroke-width="1.34"/>
<rect x="682.6" y="394.1" width="14" height="4.8" rx="0" fill="none" stroke="#1b1b1b" stroke-width="1.21"/>
<rect x="684.3" y="395.6" width="5.5" height="2" rx="1" fill="none" stroke="#1b1b1b" stroke-width="0.94"/>
<path d="M686.2 384.8 l2 0 M687.4 386.6 l0 3.2 M685.9 389.1 l3 0" fill="none" stroke="#1b1b1b" stroke-width="1.47" />
<path d="M701 398.9 L701 380 A7.55 7.55 0 1 1 714.9 383.6 L711.2 388.2 L710.4 394" fill="none" stroke="#1b1b1b" stroke-width="1.34" />
<circle cx="705.9" cy="393.6" r="4.4" fill="#fff" stroke="#1b1b1b" stroke-width="1.34"/>
<circle cx="705.9" cy="393.6" r="2.6" fill="none" stroke="#1b1b1b" stroke-width="1.21"/>
<circle cx="705.9" cy="393.6" r="1" fill="none" stroke="#1b1b1b" stroke-width="1.07"/>
<line x1="696.5" y1="398.9" x2="712" y2="398.9" stroke="#1b1b1b" stroke-width="1.34"/>
<path d="M711.8 396.5 L716.3 384.5 Q718.5 376 728 375.3 Q738 375.3 743.6 381.9 L753 392.3" fill="none" stroke="#1b1b1b" stroke-width="1.34" />
<path d="M716.8 381.9 L743.6 381.9 L743.6 392.3 L713.8 392.3" fill="none" stroke="#1b1b1b" stroke-width="1.34" />
<circle cx="722.5" cy="386.8" r="3.7" fill="none" stroke="#1b1b1b" stroke-width="1.34"/>
<line x1="719.6" y1="386.8" x2="725.4" y2="386.8" stroke="#1b1b1b" stroke-width="1.07"/>
<circle cx="737.6" cy="386.8" r="4" fill="none" stroke="#1b1b1b" stroke-width="1.34"/>
<circle cx="737.6" cy="386.8" r="2.2" fill="none" stroke="#1b1b1b" stroke-width="1.07"/>
<path d="M735.8 385 l3.6 3.6 M739.4 385 l-3.6 3.6" fill="none" stroke="#1b1b1b" stroke-width="0.94" />
<rect x="729.6" y="382.6" width="2.4" height="2.4" rx="0" fill="#1b1b1b" stroke="#1b1b1b" stroke-width="0.67"/>
<path d="M752.4 392.3 L752.4 399.8" fill="none" stroke="#1b1b1b" stroke-width="1.34" stroke-linejoin="round"/>
<path d="M763.3 392.3 L763.3 398.5 L759.6 399.8" fill="none" stroke="#1b1b1b" stroke-width="1.34" stroke-linejoin="round"/>
<line x1="712.5" y1="396.8" x2="752.4" y2="396.8" stroke="#1b1b1b" stroke-width="1.21"/>
<rect x="690.5" y="399.8" width="69.1" height="24.5" rx="0" fill="none" stroke="#1b1b1b" stroke-width="1.47"/>
<rect x="717.2" y="400.6" width="15.4" height="23.7" rx="0" fill="none" stroke="#1b1b1b" stroke-width="1.21"/>
<line x1="717.2" y1="410.6" x2="725.2" y2="410.6" stroke="#1b1b1b" stroke-width="1.21"/>
<circle cx="721.7" cy="405.3" r="3.3" fill="#555" stroke="#1b1b1b" stroke-width="1.34"/>
<circle cx="728.9" cy="405.4" r="1.4" fill="none" stroke="#1b1b1b" stroke-width="1.07"/>
<circle cx="725.1" cy="418.6" r="2.3" fill="#333" stroke="#1b1b1b" stroke-width="0.8"/>
<path d="M711.4 424.3 L711.4 428 Q711.4 432.5 706.5 433.6" fill="none" stroke="#1b1b1b" stroke-width="1.34" />
<path d="M738.5 424.3 L738.5 428 Q738.5 432.5 743.4 433.6" fill="none" stroke="#1b1b1b" stroke-width="1.34" />
<line x1="711.4" y1="430" x2="711.4" y2="476" stroke="#1b1b1b" stroke-width="1.21"/>
<line x1="738.5" y1="430" x2="738.5" y2="476" stroke="#1b1b1b" stroke-width="1.21"/>
<line x1="709.2" y1="438.3" x2="741" y2="438.3" stroke="#1b1b1b" stroke-width="1.21"/>
<line x1="709.2" y1="445.6" x2="741" y2="445.6" stroke="#1b1b1b" stroke-width="1.21"/>
<line x1="709.2" y1="476.4" x2="741" y2="476.4" stroke="#1b1b1b" stroke-width="1.21"/>
<line x1="709.2" y1="483.7" x2="741" y2="483.7" stroke="#1b1b1b" stroke-width="1.21"/>
<rect x="673.3" y="440.5" width="9.5" height="15.4" rx="0" fill="#fff" stroke="#1b1b1b" stroke-width="1.34"/>
<rect x="673.3" y="465.4" width="9.5" height="14.6" rx="0" fill="#fff" stroke="#1b1b1b" stroke-width="1.34"/>
<rect x="667.6" y="443.6" width="5.7" height="9.4" rx="0.8" fill="#fff" stroke="#1b1b1b" stroke-width="1.34"/>
<line x1="667.6" y1="446.4" x2="673.3" y2="446.4" stroke="#1b1b1b" stroke-width="1.07"/>
<line x1="667.6" y1="450.2" x2="673.3" y2="450.2" stroke="#1b1b1b" stroke-width="1.07"/>
<path d="M690.3 435.6 A9.3 9.3 0 0 1 706.9 435.6 L714.3 451.5 L714.3 469.8 L706.9 485.7 A9.3 9.3 0 0 1 690.3 485.7 L682.8 471.3 L682.8 449.3 Z" fill="#fff" stroke="#1b1b1b" stroke-width="1.47" stroke-linejoin="round"/>
<rect x="679.2" y="433.9" width="9.7" height="14.7" rx="1" fill="#fff" stroke="#1b1b1b" stroke-width="1.68"/>
<line x1="679.2" y1="437.87" x2="688.9" y2="437.87" stroke="#1b1b1b" stroke-width="1.07"/>
<line x1="679.2" y1="444.63" x2="688.9" y2="444.63" stroke="#1b1b1b" stroke-width="1.07"/>
<rect x="679.2" y="472.7" width="9.7" height="14.7" rx="1" fill="#fff" stroke="#1b1b1b" stroke-width="1.68"/>
<line x1="679.2" y1="476.67" x2="688.9" y2="476.67" stroke="#1b1b1b" stroke-width="1.07"/>
<line x1="679.2" y1="483.43" x2="688.9" y2="483.43" stroke="#1b1b1b" stroke-width="1.07"/>
<circle cx="698.6" cy="439.8" r="8" fill="#fff" stroke="#1b1b1b" stroke-width="2.01"/>
<circle cx="698.6" cy="481.5" r="8" fill="#fff" stroke="#1b1b1b" stroke-width="2.01"/>
<circle cx="697.8" cy="460.6" r="9.4" fill="#fff" stroke="#1b1b1b" stroke-width="2.14"/>
<circle cx="697.8" cy="460.6" r="5.2" fill="none" stroke="#1b1b1b" stroke-width="1.07"/>
<circle cx="697.8" cy="460.6" r="2.7" fill="none" stroke="#1b1b1b" stroke-width="1.07"/>
<line x1="698.6" y1="429.2" x2="698.6" y2="493.2" stroke="#1b1b1b" stroke-width="1.34"/>
<rect x="767.2" y="440.5" width="9.5" height="15.4" rx="0" fill="#fff" stroke="#1b1b1b" stroke-width="1.34"/>
<rect x="767.2" y="465.4" width="9.5" height="14.6" rx="0" fill="#fff" stroke="#1b1b1b" stroke-width="1.34"/>
<rect x="776.7" y="443.6" width="5.7" height="9.4" rx="0.8" fill="#fff" stroke="#1b1b1b" stroke-width="1.34"/>
<line x1="776.7" y1="446.4" x2="782.4" y2="446.4" stroke="#1b1b1b" stroke-width="1.07"/>
<line x1="776.7" y1="450.2" x2="782.4" y2="450.2" stroke="#1b1b1b" stroke-width="1.07"/>
<path d="M759.7 435.6 A9.3 9.3 0 0 0 743.1 435.6 L735.7 451.5 L735.7 469.8 L743.1 485.7 A9.3 9.3 0 0 0 759.7 485.7 L767.2 471.3 L767.2 449.3 Z" fill="#fff" stroke="#1b1b1b" stroke-width="1.47" stroke-linejoin="round"/>
<rect x="761.1" y="433.9" width="9.7" height="14.7" rx="1" fill="#fff" stroke="#1b1b1b" stroke-width="1.68"/>
<line x1="761.1" y1="437.87" x2="770.8" y2="437.87" stroke="#1b1b1b" stroke-width="1.07"/>
<line x1="761.1" y1="444.63" x2="770.8" y2="444.63" stroke="#1b1b1b" stroke-width="1.07"/>
<rect x="761.1" y="472.7" width="9.7" height="14.7" rx="1" fill="#fff" stroke="#1b1b1b" stroke-width="1.68"/>
<line x1="761.1" y1="476.67" x2="770.8" y2="476.67" stroke="#1b1b1b" stroke-width="1.07"/>
<line x1="761.1" y1="483.43" x2="770.8" y2="483.43" stroke="#1b1b1b" stroke-width="1.07"/>
<circle cx="751.4" cy="439.8" r="8" fill="#fff" stroke="#1b1b1b" stroke-width="2.01"/>
<circle cx="751.4" cy="481.5" r="8" fill="#fff" stroke="#1b1b1b" stroke-width="2.01"/>
<circle cx="752.2" cy="460.6" r="9.4" fill="#fff" stroke="#1b1b1b" stroke-width="2.14"/>
<circle cx="752.2" cy="460.6" r="5.2" fill="none" stroke="#1b1b1b" stroke-width="1.07"/>
<circle cx="752.2" cy="460.6" r="2.7" fill="none" stroke="#1b1b1b" stroke-width="1.07"/>
<line x1="751.4" y1="429.2" x2="751.4" y2="493.2" stroke="#1b1b1b" stroke-width="1.34"/>
<line x1="725" y1="274" x2="725" y2="494" stroke="#1b1b1b" stroke-width="1.12" stroke-dasharray="39.3 1.7 2 1.6 300"/>
<line x1="736" y1="274" x2="736" y2="347" stroke="#1b1b1b" stroke-width="1.12" stroke-dasharray="39.3 1.7 2 1.6 300"/>
<line x1="657" y1="460.6" x2="794.8" y2="460.6" stroke="#1b1b1b" stroke-width="1.12"/>
<line x1="666.7" y1="241.3" x2="666.7" y2="353" stroke="#1b1b1b" stroke-width="1.12"/>
<line x1="775.9" y1="241.3" x2="775.9" y2="351.8" stroke="#1b1b1b" stroke-width="1.12"/>
<line x1="666.7" y1="247.1" x2="775.9" y2="247.1" stroke="#1b1b1b" stroke-width="1.12"/>
<path d="M666.7 247.1 L676.7 244.2 L674.5 247.1 L676.7 250 Z" fill="#1b1b1b" stroke="#1b1b1b" stroke-width="0.4"/>
<path d="M775.9 247.1 L765.9 250 L768.1 247.1 L765.9 244.2 Z" fill="#1b1b1b" stroke="#1b1b1b" stroke-width="0.4"/>
<text x="0" y="0" transform="translate(718.2 242.8) scale(1.1 1)" font-family='"Liberation Sans", "Noto Sans CJK SC", sans-serif' font-size="14" text-anchor="middle" fill="#1b1b1b" stroke="#1b1b1b" stroke-width="0.12">110(4.33)</text>
<line x1="674.2" y1="284.8" x2="775.9" y2="284.8" stroke="#1b1b1b" stroke-width="1.12"/>
<path d="M725 284.8 L715 287.7 L717.2 284.8 L715 281.9 Z" fill="#1b1b1b" stroke="#1b1b1b" stroke-width="0.4"/>
<path d="M736 284.8 L746 281.9 L743.8 284.8 L746 287.7 Z" fill="#1b1b1b" stroke="#1b1b1b" stroke-width="0.4"/>
<path d="M775.9 284.8 L765.9 287.7 L768.1 284.8 L765.9 281.9 Z" fill="#1b1b1b" stroke="#1b1b1b" stroke-width="0.4"/>
<text x="0" y="0" transform="translate(695.6 280.4) scale(1.1 1)" font-family='"Liberation Sans", "Noto Sans CJK SC", sans-serif' font-size="14" text-anchor="middle" fill="#1b1b1b" stroke="#1b1b1b" stroke-width="0.12">12</text>
<text x="0" y="0" transform="translate(695.6 299.3) scale(1.1 1)" font-family='"Liberation Sans", "Noto Sans CJK SC", sans-serif' font-size="14" text-anchor="middle" fill="#1b1b1b" stroke="#1b1b1b" stroke-width="0.12">(0.47)</text>
<text x="0" y="0" transform="translate(755.8 280.4) scale(1.1 1)" font-family='"Liberation Sans", "Noto Sans CJK SC", sans-serif' font-size="14" text-anchor="middle" fill="#1b1b1b" stroke="#1b1b1b" stroke-width="0.12">39</text>
<text x="0" y="0" transform="translate(756.5 299.3) scale(1.1 1)" font-family='"Liberation Sans", "Noto Sans CJK SC", sans-serif' font-size="14" text-anchor="middle" fill="#1b1b1b" stroke="#1b1b1b" stroke-width="0.12">(1.54)</text>
<line x1="632.8" y1="319.8" x2="670.5" y2="319.8" stroke="#1b1b1b" stroke-width="1.12"/>
<line x1="632.8" y1="395.9" x2="680" y2="395.9" stroke="#1b1b1b" stroke-width="1.12"/>
<line x1="643.2" y1="319.8" x2="643.2" y2="395.9" stroke="#1b1b1b" stroke-width="1.12"/>
<path d="M643.2 319.8 L646.1 329.8 L643.2 327.6 L640.3 329.8 Z" fill="#1b1b1b" stroke="#1b1b1b" stroke-width="0.4"/>
<path d="M643.2 395.9 L640.3 385.9 L643.2 388.1 L646.1 385.9 Z" fill="#1b1b1b" stroke="#1b1b1b" stroke-width="0.4"/>
<text x="0" y="0" transform="translate(634.6 357.6) rotate(-90) scale(1.1 1)" font-family='"Liberation Sans", "Noto Sans CJK SC", sans-serif' font-size="14" text-anchor="middle" fill="#1b1b1b" stroke="#1b1b1b" stroke-width="0.12">ø78(3.07)</text>
<line x1="771.5" y1="323.5" x2="824" y2="323.5" stroke="#1b1b1b" stroke-width="1.12"/>
<line x1="775.5" y1="392.3" x2="824" y2="392.3" stroke="#1b1b1b" stroke-width="1.12"/>
<line x1="802.4" y1="323.5" x2="802.4" y2="392.3" stroke="#1b1b1b" stroke-width="1.12"/>
<path d="M802.4 323.5 L805.3 333.5 L802.4 331.3 L799.5 333.5 Z" fill="#1b1b1b" stroke="#1b1b1b" stroke-width="0.4"/>
<path d="M802.4 392.3 L799.5 382.3 L802.4 384.5 L805.3 382.3 Z" fill="#1b1b1b" stroke="#1b1b1b" stroke-width="0.4"/>
<text x="0" y="0" transform="translate(800.3 357.6) rotate(-90) scale(1.1 1)" font-family='"Liberation Sans", "Noto Sans CJK SC", sans-serif' font-size="14" text-anchor="middle" fill="#1b1b1b" stroke="#1b1b1b" stroke-width="0.12">ø70</text>
<text x="0" y="0" transform="translate(816.6 357.9) rotate(-90) scale(1.1 1)" font-family='"Liberation Sans", "Noto Sans CJK SC", sans-serif' font-size="14" text-anchor="middle" fill="#1b1b1b" stroke="#1b1b1b" stroke-width="0.12">(2.76)</text>
<line x1="756.7" y1="334.8" x2="856" y2="334.8" stroke="#1b1b1b" stroke-width="1.12"/>
<line x1="846.6" y1="334.8" x2="846.6" y2="460.6" stroke="#1b1b1b" stroke-width="1.12"/>
<path d="M846.6 334.8 L849.5 344.8 L846.6 342.6 L843.7 344.8 Z" fill="#1b1b1b" stroke="#1b1b1b" stroke-width="0.4"/>
<path d="M846.6 460.6 L843.7 450.6 L846.6 452.8 L849.5 450.6 Z" fill="#1b1b1b" stroke="#1b1b1b" stroke-width="0.4"/>
<text x="0" y="0" transform="translate(839.4 397.5) rotate(-90) scale(1.1 1)" font-family='"Liberation Sans", "Noto Sans CJK SC", sans-serif' font-size="14" text-anchor="middle" fill="#1b1b1b" stroke="#1b1b1b" stroke-width="0.12">129(5.08)</text>
<line x1="797.7" y1="460.6" x2="856" y2="460.6" stroke="#1b1b1b" stroke-width="1.12"/>
<line x1="698.6" y1="497.9" x2="698.6" y2="526.2" stroke="#1b1b1b" stroke-width="1.12"/>
<line x1="751.4" y1="497.9" x2="751.4" y2="526.2" stroke="#1b1b1b" stroke-width="1.12"/>
<line x1="698.6" y1="515.2" x2="751.4" y2="515.2" stroke="#1b1b1b" stroke-width="1.12"/>
<path d="M698.6 515.2 L708.6 512.3 L706.4 515.2 L708.6 518.1 Z" fill="#1b1b1b" stroke="#1b1b1b" stroke-width="0.4"/>
<path d="M751.4 515.2 L741.4 518.1 L743.6 515.2 L741.4 512.3 Z" fill="#1b1b1b" stroke="#1b1b1b" stroke-width="0.4"/>
<text x="0" y="0" transform="translate(725.2 512.2) scale(1.1 1)" font-family='"Liberation Sans", "Noto Sans CJK SC", sans-serif' font-size="14" text-anchor="middle" fill="#1b1b1b" stroke="#1b1b1b" stroke-width="0.12">54</text>
<text x="0" y="0" transform="translate(725.2 531.8) scale(1.1 1)" font-family='"Liberation Sans", "Noto Sans CJK SC", sans-serif' font-size="14" text-anchor="middle" fill="#1b1b1b" stroke="#1b1b1b" stroke-width="0.12">(2.13)</text>
<line x1="667.9" y1="457.4" x2="667.9" y2="565.7" stroke="#1b1b1b" stroke-width="1.12"/>
<line x1="782.2" y1="457.4" x2="782.2" y2="565.7" stroke="#1b1b1b" stroke-width="1.12"/>
<line x1="667.9" y1="557.2" x2="782.2" y2="557.2" stroke="#1b1b1b" stroke-width="1.12"/>
<path d="M667.9 557.2 L677.9 554.3 L675.7 557.2 L677.9 560.1 Z" fill="#1b1b1b" stroke="#1b1b1b" stroke-width="0.4"/>
<path d="M782.2 557.2 L772.2 560.1 L774.4 557.2 L772.2 554.3 Z" fill="#1b1b1b" stroke="#1b1b1b" stroke-width="0.4"/>
<text x="0" y="0" transform="translate(721.5 554.3) scale(1.1 1)" font-family='"Liberation Sans", "Noto Sans CJK SC", sans-serif' font-size="14" text-anchor="middle" fill="#1b1b1b" stroke="#1b1b1b" stroke-width="0.12">130</text>
<text x="0" y="0" transform="translate(743.3 549.5) scale(1.1 1)" font-family='"Liberation Sans", "Noto Sans CJK SC", sans-serif' font-size="10.5" text-anchor="middle" fill="#1b1b1b" stroke="#1b1b1b" stroke-width="0.12">*1</text>
<text x="0" y="0" transform="translate(722.8 574.3) scale(1.1 1)" font-family='"Liberation Sans", "Noto Sans CJK SC", sans-serif' font-size="14" text-anchor="middle" fill="#1b1b1b" stroke="#1b1b1b" stroke-width="0.12">(5.12)</text>
<text x="643" y="523.5" font-family='"Noto Serif CJK SC", "Liberation Serif", serif' font-size="16.8" text-anchor="start" fill="#1b1b1b" >高</text>
<text x="643" y="543.8" font-family='"Noto Serif CJK SC", "Liberation Serif", serif' font-size="16.8" text-anchor="start" fill="#1b1b1b" >压</text>
<text x="643" y="564.1" font-family='"Noto Serif CJK SC", "Liberation Serif", serif' font-size="16.8" text-anchor="start" fill="#1b1b1b" >侧</text>
<text x="794.5" y="523.5" font-family='"Noto Serif CJK SC", "Liberation Serif", serif' font-size="16.8" text-anchor="start" fill="#1b1b1b" >低</text>
<text x="794.5" y="543.8" font-family='"Noto Serif CJK SC", "Liberation Serif", serif' font-size="16.8" text-anchor="start" fill="#1b1b1b" >压</text>
<text x="794.5" y="564.1" font-family='"Noto Serif CJK SC", "Liberation Serif", serif' font-size="16.8" text-anchor="start" fill="#1b1b1b" >侧</text>
<text x="604.5" y="270.8" font-family='"Noto Serif CJK SC", "Liberation Serif", serif' font-size="16.2" text-anchor="start" fill="#1b1b1b" >调零</text>
<line x1="600.2" y1="274" x2="640.3" y2="274" stroke="#1b1b1b" stroke-width="1.12"/>
<line x1="640.3" y1="274" x2="706.3" y2="377.3" stroke="#1b1b1b" stroke-width="1.12"/>
<path d="M706.3 377.3 L698.47 370.43 L702.1 370.73 L703.36 367.31 Z" fill="#1b1b1b" stroke="#1b1b1b" stroke-width="0.4"/>
<text x="576.3" y="417.2" font-family='"Noto Serif CJK SC", "Liberation Serif", serif' font-size="16.3" text-anchor="start" fill="#1b1b1b" >接地端子</text>
<line x1="568.3" y1="422.4" x2="645" y2="422.4" stroke="#1b1b1b" stroke-width="1.12"/>
<line x1="645" y1="422.4" x2="731.9" y2="391.4" stroke="#1b1b1b" stroke-width="1.12"/>
<path d="M731.9 391.4 L723.46 397.49 L724.55 394.02 L721.51 392.03 Z" fill="#1b1b1b" stroke="#1b1b1b" stroke-width="0.4"/>
<text x="863.4" y="475" font-family='"Noto Serif CJK SC", "Liberation Serif", serif' font-size="16.6" text-anchor="start" fill="#1b1b1b" >排气塞</text>
<path d="M916.3 479.8 L860.7 479.8 Q852 477.5 783.5 449.7" fill="none" stroke="#1b1b1b" stroke-width="1.12" />
<path d="M783.5 449.7 L793.86 450.77 L790.73 452.63 L791.68 456.15 Z" fill="#1b1b1b" stroke="#1b1b1b" stroke-width="0.4"/>
<text x="841.8" y="505.3" font-family='"Noto Serif CJK SC", "Liberation Serif", serif' font-size="16.6" text-anchor="start" fill="#1b1b1b" >排液塞</text>
<path d="M893.7 510 L838.1 510 Q825 503 777.9 474.2" fill="none" stroke="#1b1b1b" stroke-width="1.12" />
<path d="M777.9 474.2 L787.94 476.95 L784.55 478.28 L784.91 481.9 Z" fill="#1b1b1b" stroke="#1b1b1b" stroke-width="0.4"/>
<line x1="99.3" y1="903.4" x2="138.3" y2="903.4" stroke="#1b1b1b" stroke-width="1.34"/>
<line x1="99.3" y1="903.3" x2="99.3" y2="930.6" stroke="#1b1b1b" stroke-width="1.34"/>
<line x1="101.5" y1="903.3" x2="101.5" y2="930.6" stroke="#1b1b1b" stroke-width="1.34"/>
<line x1="99.3" y1="930.6" x2="110.8" y2="930.6" stroke="#1b1b1b" stroke-width="1.34"/>
<rect x="95.2" y="910.8" width="4.1" height="13.2" rx="0" fill="none" stroke="#1b1b1b" stroke-width="1.34"/>
<line x1="93.1" y1="917.4" x2="108.8" y2="917.4" stroke="#1b1b1b" stroke-width="1.34"/>
<path d="M112.1 954.43 A37.7 37.7 0 0 1 166.78 907.73" fill="none" stroke="#1b1b1b" stroke-width="1.34" />
<path d="M115.52 951.4 L111.77 952.8 M114.58 948.5 L110.72 949.55 M113.91 945.53 L109.97 946.23 M113.52 942.51 L109.53 942.85 M113.4 939.47 L109.4 939.45 M113.56 936.43 L109.58 936.04 M114 933.42 L110.07 932.67 M114.7 930.46 L110.86 929.36 M115.68 927.58 L111.95 926.13 M116.91 924.8 L113.33 923.01 M118.39 922.14 L114.99 920.04 M120.11 919.63 L116.91 917.22 M122.04 917.28 L119.08 914.59 M124.19 915.12 L121.48 912.17 M126.52 913.16 L124.09 909.98 M129.02 911.43 L126.89 908.04 M131.67 909.93 L129.85 906.36 M134.44 908.67 L132.96 904.96 M137.31 907.68 L136.18 903.84 M140.27 906.94 L139.49 903.02 M143.28 906.49 L142.85 902.51 M146.31 906.3 L146.26 902.3 M149.36 906.4 L149.66 902.41 M152.38 906.77 L153.04 902.82 M155.35 907.41 L156.37 903.55 M158.25 908.33 L159.63 904.57 M161.06 909.5 L162.77 905.88 M163.75 910.92 L165.78 907.48" fill="none" stroke="#1b1b1b" stroke-width="2.08" />
<path d="M116.3 952.02 A32.9 32.9 0 0 1 164.23 911.8" fill="none" stroke="#1b1b1b" stroke-width="1.07" />
<path d="M120.49 951.41 A28.8 28.8 0 0 1 166.07 918.3" fill="none" stroke="#1b1b1b" stroke-width="1.34" />
<path d="M125.36 944.65 A22 22 0 0 1 163.15 924.98" fill="none" stroke="#1b1b1b" stroke-width="1.34" />
<path d="M166.9 903.5 C169.8 909 170.3 914 168.6 918.5 C166.8 923.5 165.8 927.5 161.3 930.5 C156.3 933.5 150.3 934.2 144.3 937 C134.3 942 127.3 954.5 112.5 954.2" fill="none" stroke="#1b1b1b" stroke-width="1.47" />
<path d="M128.9 927.5 C136.3 922.5 154.3 922.5 163.6 926.6" fill="none" stroke="#1b1b1b" stroke-width="1.34" />
<line x1="128.7" y1="927.5" x2="128.7" y2="945.3" stroke="#1b1b1b" stroke-width="1.34"/>
<line x1="126.7" y1="930.5" x2="126.7" y2="944.5" stroke="#1b1b1b" stroke-width="1.07"/>
<rect x="144.8" y="903.6" width="4.4" height="8.2" rx="1.5" fill="#fff" stroke="#1b1b1b" stroke-width="1.34"/>
<rect x="110.3" y="937.5" width="8" height="4.6" rx="1.5" fill="#fff" stroke="#1b1b1b" stroke-width="1.34"/>
<line x1="104" y1="939.9" x2="165.8" y2="939.9" stroke="#1b1b1b" stroke-width="1.34"/>
<line x1="146.9" y1="849.7" x2="146.9" y2="956" stroke="#1b1b1b" stroke-width="1.34" stroke-dasharray="41 1.8 2.4 1.8 100"/>
<line x1="95.55" y1="849.7" x2="95.55" y2="906" stroke="#1b1b1b" stroke-width="1.34"/>
<line x1="95.55" y1="858.1" x2="146.8" y2="858.1" stroke="#1b1b1b" stroke-width="1.34"/>
<path d="M95.55 858.1 L105.55 855.2 L103.35 858.1 L105.55 861 Z" fill="#1b1b1b" stroke="#1b1b1b" stroke-width="0.4"/>
<path d="M146.8 858.1 L136.8 861 L139 858.1 L136.8 855.2 Z" fill="#1b1b1b" stroke="#1b1b1b" stroke-width="0.4"/>
<text x="0" y="0" transform="translate(121 852.6) scale(1.1 1)" font-family='"Liberation Sans", "Noto Sans CJK SC", sans-serif' font-size="14" text-anchor="middle" fill="#1b1b1b" stroke="#1b1b1b" stroke-width="0.12">54</text>
<text x="0" y="0" transform="translate(121 872.2) scale(1.1 1)" font-family='"Liberation Sans", "Noto Sans CJK SC", sans-serif' font-size="14" text-anchor="middle" fill="#1b1b1b" stroke="#1b1b1b" stroke-width="0.12">(2.13)</text>
<text x="0" y="0" transform="translate(77.7 882.4) scale(1.1 1)" font-family='"Liberation Sans", "Noto Sans CJK SC", sans-serif' font-size="14" text-anchor="middle" fill="#1b1b1b" stroke="#1b1b1b" stroke-width="0.12">6</text>
<text x="0" y="0" transform="translate(61.7 902.6) scale(1.1 1)" font-family='"Liberation Sans", "Noto Sans CJK SC", sans-serif' font-size="14" text-anchor="middle" fill="#1b1b1b" stroke="#1b1b1b" stroke-width="0.12">(0.24)</text>
<line x1="69.2" y1="887.9" x2="95.55" y2="887.9" stroke="#1b1b1b" stroke-width="1.34"/>
<path d="M95.55 887.9 L85.55 890.8 L87.75 887.9 L85.55 885 Z" fill="#1b1b1b" stroke="#1b1b1b" stroke-width="0.4"/>
<line x1="101.6" y1="887.9" x2="128.5" y2="887.9" stroke="#1b1b1b" stroke-width="1.34"/>
<path d="M101.6 887.9 L111.6 885 L109.4 887.9 L111.6 890.8 Z" fill="#1b1b1b" stroke="#1b1b1b" stroke-width="0.4"/>
<line x1="101.6" y1="878.8" x2="101.6" y2="899.5" stroke="#1b1b1b" stroke-width="1.34"/>
<text x="61.6" y="984.5" font-family='"Noto Serif CJK SC", "Liberation Serif", serif' font-size="16.9" text-anchor="start" fill="#1b1b1b" >电气连接代码</text>
<text x="61" y="1005" font-family='"Liberation Serif", "Noto Serif CJK SC", serif' font-size="17" text-anchor="start" fill="#1b1b1b" letter-spacing="0.25">5、9、A和D</text>
<g transform="translate(1.43 539.06) scale(0.97)">
<path d="M296 348.5 L285.5 348.5 L285.5 321.4 L322 321.4" fill="none" stroke="#1b1b1b" stroke-width="1.34" />
<path d="M368.6 348.5 L379.1 348.5 L379.1 321.4 L342.6 321.4" fill="none" stroke="#1b1b1b" stroke-width="1.34" />
<line x1="281.8" y1="335.2" x2="293.6" y2="335.2" stroke="#1b1b1b" stroke-width="1.34"/>
<line x1="371" y1="335.2" x2="382.8" y2="335.2" stroke="#1b1b1b" stroke-width="1.34"/>
<circle cx="332.3" cy="358.1" r="38.2" fill="none" stroke="#1b1b1b" stroke-width="2.14"/>
<circle cx="332.3" cy="358.1" r="35.6" fill="none" stroke="#1b1b1b" stroke-width="3.35" stroke-dasharray="1.95 1.3399"/>
<circle cx="332.3" cy="358.1" r="30" fill="none" stroke="#1b1b1b" stroke-width="1.34"/>
<circle cx="332.3" cy="358.1" r="21.8" fill="none" stroke="#1b1b1b" stroke-width="1.34"/>
<rect x="330.2" y="320.4" width="4.2" height="9.0" rx="1.7" fill="#fff" stroke="#1b1b1b" stroke-width="1.25" transform="rotate(0 332.3 358.1)"/>
<rect x="330.2" y="320.4" width="4.2" height="9.0" rx="1.7" fill="#fff" stroke="#1b1b1b" stroke-width="1.25" transform="rotate(90 332.3 358.1)"/>
<rect x="330.2" y="320.4" width="4.2" height="9.0" rx="1.7" fill="#fff" stroke="#1b1b1b" stroke-width="1.25" transform="rotate(180 332.3 358.1)"/>
<rect x="330.2" y="320.4" width="4.2" height="9.0" rx="1.7" fill="#fff" stroke="#1b1b1b" stroke-width="1.25" transform="rotate(270 332.3 358.1)"/>
<path d="M313.3 346.5 Q313.3 342.6 318 342.2 L346.6 342.2 Q351.3 342.6 351.3 346.5 L351.3 368 Q351.3 372 346.6 372 L318 372 Q313.3 372 313.3 368 Z" fill="none" stroke="#1b1b1b" stroke-width="1.34" />
<path d="M315.5 343.5 Q332.3 334.5 349.1 343.5" fill="none" stroke="#1b1b1b" stroke-width="1.21" />
<path d="M319.5 372 L321.5 378.5 L343.1 378.5 L345.1 372" fill="none" stroke="#1b1b1b" stroke-width="1.34" />
<line x1="319" y1="374.3" x2="345.6" y2="374.3" stroke="#1b1b1b" stroke-width="2.14"/>
<line x1="303.3" y1="383.8" x2="303.3" y2="400.4" stroke="#1b1b1b" stroke-width="1.34"/>
<line x1="367.1" y1="372" x2="367.1" y2="400.4" stroke="#1b1b1b" stroke-width="1.34"/>
<circle cx="361.8" cy="386.6" r="3.3" fill="none" stroke="#1b1b1b" stroke-width="1.34"/>
<circle cx="361.8" cy="386.6" r="1.5" fill="none" stroke="#1b1b1b" stroke-width="1.21"/>
<path d="M355 392 L367.5 392 L367.5 381 L364 381" fill="none" stroke="#1b1b1b" stroke-width="1.34" />
<rect x="367.5" y="382.3" width="2.6" height="13.5" rx="1.2" fill="none" stroke="#1b1b1b" stroke-width="1.34"/>
<rect x="298.2" y="400.4" width="67.6" height="24.3" rx="1.5" fill="none" stroke="#1b1b1b" stroke-width="1.47"/>
<line x1="298.2" y1="403" x2="365.8" y2="403" stroke="#1b1b1b" stroke-width="1.07"/>
<path d="M298.2 411.3 L292.6 411.3 L292.6 424.7" fill="none" stroke="#1b1b1b" stroke-width="1.34" />
<line x1="292.6" y1="424.7" x2="298.2" y2="424.7" stroke="#1b1b1b" stroke-width="1.34"/>
<path d="M298.2 404 L296.2 404 L296.2 408 L298.2 408" fill="none" stroke="#1b1b1b" stroke-width="1.21" />
<ellipse cx="366.8" cy="405.5" rx="1.3" ry="2.6" fill="#1b1b1b" stroke="#1b1b1b" stroke-width="1.21"/>
<path d="M328.7 424.7 L328.7 417.5 A3.6 3.6 0 0 1 335.9 417.5 L335.9 424.7" fill="none" stroke="#1b1b1b" stroke-width="1.34" />
<circle cx="332.3" cy="417.9" r="2" fill="#777" stroke="#1b1b1b" stroke-width="1.21"/>
</g>
<path d="M295.3 949.7 Q295.3 956.5 304 959.7 L342.2 959.7 Q350.9 956.5 350.9 949.7" fill="none" stroke="#1b1b1b" stroke-width="1.34" />
<path d="M296 953.4 Q323.1 957.5 350.2 953.4" fill="none" stroke="#1b1b1b" stroke-width="1.07" />
<path d="M308.9 959.7 L308.9 972.5 Q308.9 977.5 313.9 977.5 L332.3 977.5 Q337.3 977.5 337.3 972.5 L337.3 959.7" fill="none" stroke="#1b1b1b" stroke-width="1.34" />
<path d="M300.5 957.5 Q299 962.5 304 964.2 Q307.5 965 308.9 967" fill="none" stroke="#1b1b1b" stroke-width="1.21" />
<path d="M337.3 963.5 Q343 963 346 960.3" fill="none" stroke="#1b1b1b" stroke-width="1.21" />
<path d="M308.9 970.1 L278.8 970.1 L278.8 1027.4 L366.6 1027.4 L366.6 970.1 L337.3 970.1" fill="none" stroke="#1b1b1b" stroke-width="1.47" stroke-linejoin="round"/>
<line x1="284.3" y1="981.8" x2="284.3" y2="1015.3" stroke="#1b1b1b" stroke-width="1.34"/>
<line x1="361.3" y1="981.8" x2="361.3" y2="1015.3" stroke="#1b1b1b" stroke-width="1.34"/>
<line x1="286.4" y1="991.9" x2="286.4" y2="1006.1" stroke="#1b1b1b" stroke-width="2.14"/>
<line x1="359.4" y1="991.9" x2="359.4" y2="1006.1" stroke="#1b1b1b" stroke-width="2.14"/>
<line x1="278.8" y1="992.2" x2="313.6" y2="992.2" stroke="#1b1b1b" stroke-width="1.34"/>
<line x1="332.8" y1="992.2" x2="366.6" y2="992.2" stroke="#1b1b1b" stroke-width="1.34"/>
<line x1="278.8" y1="1005.5" x2="313.6" y2="1005.5" stroke="#1b1b1b" stroke-width="1.34"/>
<line x1="332.8" y1="1005.5" x2="366.6" y2="1005.5" stroke="#1b1b1b" stroke-width="1.34"/>
<circle cx="299" cy="976" r="8.7" fill="#fff" stroke="#1b1b1b" stroke-width="2.03"/>
<circle cx="299" cy="976" r="4.3" fill="none" stroke="#1b1b1b" stroke-width="1.47"/>
<circle cx="346.8" cy="976" r="8.7" fill="#fff" stroke="#1b1b1b" stroke-width="2.03"/>
<circle cx="346.8" cy="976" r="4.3" fill="none" stroke="#1b1b1b" stroke-width="1.47"/>
<circle cx="299" cy="1022.3" r="8.7" fill="#fff" stroke="#1b1b1b" stroke-width="2.03"/>
<circle cx="299" cy="1022.3" r="4.3" fill="none" stroke="#1b1b1b" stroke-width="1.47"/>
<circle cx="346.8" cy="1022.3" r="8.7" fill="#fff" stroke="#1b1b1b" stroke-width="2.03"/>
<circle cx="346.8" cy="1022.3" r="4.3" fill="none" stroke="#1b1b1b" stroke-width="1.47"/>
<path d="M313.6 980.6 A9.6 9.6 0 0 1 332.8 980.6 L332.8 1016 A9.6 9.6 0 0 1 313.6 1016 Z" fill="#fff" stroke="#1b1b1b" stroke-width="1.47" />
<path d="M330.6 981.2 L326.85 987.7 L319.35 987.7 L315.6 981.2 L319.35 974.7 L326.85 974.7 Z" fill="none" stroke="#1b1b1b" stroke-width="1.74" stroke-linejoin="round"/>
<circle cx="323.1" cy="981.2" r="3.5" fill="none" stroke="#1b1b1b" stroke-width="1.21"/>
<circle cx="323.1" cy="1016.2" r="7.1" fill="none" stroke="#1b1b1b" stroke-width="1.61"/>
<rect x="263.4" y="990.2" width="13.4" height="17.6" rx="0" fill="#fff" stroke="#1b1b1b" stroke-width="1.47"/>
<line x1="263.4" y1="994.7" x2="276.8" y2="994.7" stroke="#1b1b1b" stroke-width="1.21"/>
<line x1="263.4" y1="1003.3" x2="276.8" y2="1003.3" stroke="#1b1b1b" stroke-width="1.21"/>
<rect x="276.8" y="993" width="2.2" height="12" rx="0" fill="none" stroke="#1b1b1b" stroke-width="1.21"/>
<path d="M366.6 970.1 L391.2 970.1 L391.2 1027.4 L366.6 1027.4" fill="none" stroke="#1b1b1b" stroke-width="1.47" stroke-linejoin="round"/>
<line x1="366.6" y1="989" x2="391.2" y2="989" stroke="#1b1b1b" stroke-width="1.21"/>
<line x1="366.6" y1="1008" x2="391.2" y2="1008" stroke="#1b1b1b" stroke-width="1.21"/>
<rect x="391.2" y="970.8" width="6.9" height="17.6" rx="1.2" fill="none" stroke="#1b1b1b" stroke-width="1.34"/>
<line x1="391.2" y1="975.6" x2="398.1" y2="975.6" stroke="#1b1b1b" stroke-width="1.07"/>
<line x1="391.2" y1="983.6" x2="398.1" y2="983.6" stroke="#1b1b1b" stroke-width="1.07"/>
<rect x="391.2" y="1009.8" width="6.9" height="17.6" rx="1.2" fill="none" stroke="#1b1b1b" stroke-width="1.34"/>
<line x1="391.2" y1="1014.6" x2="398.1" y2="1014.6" stroke="#1b1b1b" stroke-width="1.07"/>
<line x1="391.2" y1="1022.6" x2="398.1" y2="1022.6" stroke="#1b1b1b" stroke-width="1.07"/>
<line x1="323.1" y1="840" x2="323.1" y2="1035" stroke="#1b1b1b" stroke-width="1.12" stroke-dasharray="82 2 3 2 200"/>
<line x1="278.4" y1="885.7" x2="368.8" y2="885.7" stroke="#1b1b1b" stroke-width="1.12"/>
<line x1="232" y1="998.9" x2="405.7" y2="998.9" stroke="#1b1b1b" stroke-width="1.12"/>
<line x1="263.8" y1="787.6" x2="263.8" y2="990" stroke="#1b1b1b" stroke-width="1.12"/>
<line x1="390.7" y1="786.4" x2="390.7" y2="964.2" stroke="#1b1b1b" stroke-width="1.12"/>
<line x1="323.1" y1="785" x2="323.1" y2="809" stroke="#1b1b1b" stroke-width="1.12"/>
<line x1="263.8" y1="793.9" x2="323.1" y2="793.9" stroke="#1b1b1b" stroke-width="1.12"/>
<path d="M263.8 793.9 L273.8 791 L271.6 793.9 L273.8 796.8 Z" fill="#1b1b1b" stroke="#1b1b1b" stroke-width="0.4"/>
<path d="M323.1 793.9 L313.1 796.8 L315.3 793.9 L313.1 791 Z" fill="#1b1b1b" stroke="#1b1b1b" stroke-width="0.4"/>
<line x1="323.1" y1="793.9" x2="390.7" y2="793.9" stroke="#1b1b1b" stroke-width="1.12"/>
<path d="M323.1 793.9 L333.1 791 L330.9 793.9 L333.1 796.8 Z" fill="#1b1b1b" stroke="#1b1b1b" stroke-width="0.4"/>
<path d="M390.7 793.9 L380.7 796.8 L382.9 793.9 L380.7 791 Z" fill="#1b1b1b" stroke="#1b1b1b" stroke-width="0.4"/>
<text x="0" y="0" transform="translate(293.3 790) scale(1.1 1)" font-family='"Liberation Sans", "Noto Sans CJK SC", sans-serif' font-size="14" text-anchor="middle" fill="#1b1b1b" stroke="#1b1b1b" stroke-width="0.12">63</text>
<text x="0" y="0" transform="translate(293.3 810.2) scale(1.1 1)" font-family='"Liberation Sans", "Noto Sans CJK SC", sans-serif' font-size="14" text-anchor="middle" fill="#1b1b1b" stroke="#1b1b1b" stroke-width="0.12">(2.48)</text>
<text x="0" y="0" transform="translate(355.6 790) scale(1.1 1)" font-family='"Liberation Sans", "Noto Sans CJK SC", sans-serif' font-size="14" text-anchor="middle" fill="#1b1b1b" stroke="#1b1b1b" stroke-width="0.12">72</text>
<text x="0" y="0" transform="translate(355.6 810.2) scale(1.1 1)" font-family='"Liberation Sans", "Noto Sans CJK SC", sans-serif' font-size="14" text-anchor="middle" fill="#1b1b1b" stroke="#1b1b1b" stroke-width="0.12">(2.83)</text>
<line x1="277.6" y1="830" x2="277.6" y2="850" stroke="#1b1b1b" stroke-width="1.12"/>
<line x1="368.6" y1="830" x2="368.6" y2="850" stroke="#1b1b1b" stroke-width="1.12"/>
<line x1="277.6" y1="837.4" x2="368.6" y2="837.4" stroke="#1b1b1b" stroke-width="1.12"/>
<path d="M277.6 837.4 L287.6 834.5 L285.4 837.4 L287.6 840.3 Z" fill="#1b1b1b" stroke="#1b1b1b" stroke-width="0.4"/>
<path d="M368.6 837.4 L358.6 840.3 L360.8 837.4 L358.6 834.5 Z" fill="#1b1b1b" stroke="#1b1b1b" stroke-width="0.4"/>
<text x="0" y="0" transform="translate(328 831.4) scale(1.1 1)" font-family='"Liberation Sans", "Noto Sans CJK SC", sans-serif' font-size="14" text-anchor="middle" fill="#1b1b1b" stroke="#1b1b1b" stroke-width="0.12">95(3.74)</text>
<line x1="232.6" y1="848.3" x2="432.2" y2="848.3" stroke="#1b1b1b" stroke-width="1.12"/>
<line x1="241.2" y1="848.3" x2="241.2" y2="998.9" stroke="#1b1b1b" stroke-width="1.12"/>
<path d="M241.2 848.3 L244.1 858.3 L241.2 856.1 L238.3 858.3 Z" fill="#1b1b1b" stroke="#1b1b1b" stroke-width="0.4"/>
<path d="M241.2 998.9 L238.3 988.9 L241.2 991.1 L244.1 988.9 Z" fill="#1b1b1b" stroke="#1b1b1b" stroke-width="0.4"/>
<text x="0" y="0" transform="translate(236.3 925) rotate(-90) scale(1.1 1)" font-family='"Liberation Sans", "Noto Sans CJK SC", sans-serif' font-size="14" text-anchor="middle" fill="#1b1b1b" stroke="#1b1b1b" stroke-width="0.12">159(6.26)</text>
<line x1="421.5" y1="848.3" x2="421.5" y2="1031.8" stroke="#1b1b1b" stroke-width="1.12"/>
<path d="M421.5 848.3 L424.4 858.3 L421.5 856.1 L418.6 858.3 Z" fill="#1b1b1b" stroke="#1b1b1b" stroke-width="0.4"/>
<path d="M421.5 1031.8 L418.6 1021.8 L421.5 1024 L424.4 1021.8 Z" fill="#1b1b1b" stroke="#1b1b1b" stroke-width="0.4"/>
<text x="0" y="0" transform="translate(415.8 938.5) rotate(-90) scale(1.1 1)" font-family='"Liberation Sans", "Noto Sans CJK SC", sans-serif' font-size="14" text-anchor="middle" fill="#1b1b1b" stroke="#1b1b1b" stroke-width="0.12">194(7.64)</text>
<line x1="333.7" y1="1031.8" x2="431.6" y2="1031.8" stroke="#1b1b1b" stroke-width="1.12"/>
<line x1="323.1" y1="1035" x2="323.1" y2="1066" stroke="#1b1b1b" stroke-width="1.12"/>
<line x1="366.6" y1="1031.8" x2="366.6" y2="1066" stroke="#1b1b1b" stroke-width="1.12"/>
<line x1="323.1" y1="1056.7" x2="366.6" y2="1056.7" stroke="#1b1b1b" stroke-width="1.12"/>
<path d="M323.1 1056.7 L333.1 1053.8 L330.9 1056.7 L333.1 1059.6 Z" fill="#1b1b1b" stroke="#1b1b1b" stroke-width="0.4"/>
<path d="M366.6 1056.7 L356.6 1059.6 L358.8 1056.7 L356.6 1053.8 Z" fill="#1b1b1b" stroke="#1b1b1b" stroke-width="0.4"/>
<text x="0" y="0" transform="translate(344.5 1053.2) scale(1.1 1)" font-family='"Liberation Sans", "Noto Sans CJK SC", sans-serif' font-size="14" text-anchor="middle" fill="#1b1b1b" stroke="#1b1b1b" stroke-width="0.12">46</text>
<text x="0" y="0" transform="translate(344.5 1073.2) scale(1.1 1)" font-family='"Liberation Sans", "Noto Sans CJK SC", sans-serif' font-size="14" text-anchor="middle" fill="#1b1b1b" stroke="#1b1b1b" stroke-width="0.12">(1.81)</text>
<line x1="279" y1="1027.8" x2="279" y2="1113" stroke="#1b1b1b" stroke-width="1.12"/>
<line x1="397.9" y1="1031.8" x2="397.9" y2="1113" stroke="#1b1b1b" stroke-width="1.12"/>
<line x1="279" y1="1105.6" x2="397.9" y2="1105.6" stroke="#1b1b1b" stroke-width="1.12"/>
<path d="M279 1105.6 L289 1102.7 L286.8 1105.6 L289 1108.5 Z" fill="#1b1b1b" stroke="#1b1b1b" stroke-width="0.4"/>
<path d="M397.9 1105.6 L387.9 1108.5 L390.1 1105.6 L387.9 1102.7 Z" fill="#1b1b1b" stroke="#1b1b1b" stroke-width="0.4"/>
<text x="0" y="0" transform="translate(340.6 1098.6) scale(1.1 1)" font-family='"Liberation Sans", "Noto Sans CJK SC", sans-serif' font-size="14" text-anchor="middle" fill="#1b1b1b" stroke="#1b1b1b" stroke-width="0.12">125(4.92)</text>
<text x="148" y="788" font-family='"Noto Serif CJK SC", "Liberation Serif", serif' font-size="16.8" text-anchor="start" fill="#1b1b1b" >外接显示表</text>
<text x="159.3" y="804.3" font-family='"Noto Serif CJK SC", "Liberation Serif", serif' font-size="16.3" text-anchor="start" fill="#1b1b1b" >电气接口</text>
<text x="152.8" y="830.5" font-family='"Noto Serif CJK SC", "Liberation Serif", serif' font-size="16.3" text-anchor="start" fill="#1b1b1b" >（可选）</text>
<line x1="141.2" y1="811.5" x2="237.1" y2="811.5" stroke="#1b1b1b" stroke-width="1.12"/>
<line x1="237.1" y1="811.5" x2="276" y2="860" stroke="#1b1b1b" stroke-width="1.12"/>
<path d="M276 860 L267.48 854.01 L271.12 853.92 L272.01 850.38 Z" fill="#1b1b1b" stroke="#1b1b1b" stroke-width="0.4"/>
<text x="404.5" y="800.3" font-family='"Noto Serif CJK SC", "Liberation Serif", serif' font-size="16.4" text-anchor="start" fill="#1b1b1b" >电气接口</text>
<line x1="403.2" y1="804.7" x2="474.2" y2="804.7" stroke="#1b1b1b" stroke-width="1.12"/>
<line x1="403.2" y1="804.7" x2="370.5" y2="860.4" stroke="#1b1b1b" stroke-width="1.12"/>
<path d="M370.5 860.4 L373.06 850.31 L374.45 853.67 L378.06 853.24 Z" fill="#1b1b1b" stroke="#1b1b1b" stroke-width="0.4"/>
<text x="455.2" y="829.3" font-family='"Noto Serif CJK SC", "Liberation Serif", serif' font-size="16.9" text-anchor="start" fill="#1b1b1b" >内置显示表</text>
<line x1="454.2" y1="832.8" x2="545.3" y2="832.8" stroke="#1b1b1b" stroke-width="1.12"/>
<line x1="454.2" y1="832.8" x2="340.5" y2="878" stroke="#1b1b1b" stroke-width="1.12"/>
<path d="M340.5 878 L348.72 871.61 L347.75 875.12 L350.86 877 Z" fill="#1b1b1b" stroke="#1b1b1b" stroke-width="0.4"/>
<text x="469.5" y="851.8" font-family='"Noto Serif CJK SC", "Liberation Serif", serif' font-size="16.3" text-anchor="start" fill="#1b1b1b" >（可选）</text>
<text x="177.6" y="1035.6" font-family='"Noto Serif CJK SC", "Liberation Serif", serif' font-size="16.6" text-anchor="start" fill="#1b1b1b" >排液塞</text>
<line x1="172" y1="1040.3" x2="229" y2="1040.3" stroke="#1b1b1b" stroke-width="1.12"/>
<line x1="229" y1="1040.3" x2="262.4" y2="1003.9" stroke="#1b1b1b" stroke-width="1.12"/>
<path d="M262.4 1003.9 L257.78 1013.23 L257.13 1009.65 L253.5 1009.31 Z" fill="#1b1b1b" stroke="#1b1b1b" stroke-width="0.4"/>
<text x="190.5" y="1069.5" font-family='"Noto Serif CJK SC", "Liberation Serif", serif' font-size="16.6" text-anchor="start" fill="#1b1b1b" >排气塞</text>
<line x1="186.4" y1="1074.2" x2="244.1" y2="1074.2" stroke="#1b1b1b" stroke-width="1.12"/>
<line x1="244.1" y1="1074.2" x2="318.2" y2="985.1" stroke="#1b1b1b" stroke-width="1.12"/>
<path d="M318.2 985.1 L314.04 994.64 L313.21 991.1 L309.58 990.93 Z" fill="#1b1b1b" stroke="#1b1b1b" stroke-width="0.4"/>
<text x="190" y="1122.2" font-family='"Noto Serif CJK SC", "Liberation Serif", serif' font-size="16.6" text-anchor="start" fill="#1b1b1b" >排液塞</text>
<line x1="185.1" y1="1127" x2="242.9" y2="1127" stroke="#1b1b1b" stroke-width="1.12"/>
<line x1="242.9" y1="1127" x2="316.9" y2="1022.8" stroke="#1b1b1b" stroke-width="1.12"/>
<path d="M316.9 1022.8 L313.47 1032.63 L312.38 1029.16 L308.75 1029.27 Z" fill="#1b1b1b" stroke="#1b1b1b" stroke-width="0.4"/>
<text x="453.2" y="1083.7" font-family='"Noto Serif CJK SC", "Liberation Serif", serif' font-size="16.8" text-anchor="start" fill="#1b1b1b" >过程连接</text>
<line x1="451.6" y1="1088.5" x2="525.7" y2="1088.5" stroke="#1b1b1b" stroke-width="1.12"/>
<line x1="451.6" y1="1088.5" x2="392.1" y2="1001.9" stroke="#1b1b1b" stroke-width="1.12"/>
<path d="M392.1 1001.9 L400.15 1008.5 L396.52 1008.33 L395.37 1011.78 Z" fill="#1b1b1b" stroke="#1b1b1b" stroke-width="0.4"/>
<text x="444.6" y="1118.9" font-family='"Noto Serif CJK SC", "Liberation Serif", serif' font-size="16.8" text-anchor="start" fill="#1b1b1b" >过程接头</text>
<text x="505.5" y="1118.9" font-family='"Noto Serif CJK SC", "Liberation Serif", serif' font-size="16.8" text-anchor="start" fill="#1b1b1b" letter-spacing="-1.2">（可选）</text>
<line x1="442.9" y1="1123.6" x2="566.4" y2="1123.6" stroke="#1b1b1b" stroke-width="1.12"/>
<line x1="442.9" y1="1123.6" x2="383.1" y2="1016.9" stroke="#1b1b1b" stroke-width="1.12"/>
<path d="M383.1 1016.9 L390.52 1024.21 L386.91 1023.7 L385.46 1027.04 Z" fill="#1b1b1b" stroke="#1b1b1b" stroke-width="0.4"/>
<g transform="translate(46.98 540.02) scale(0.96)">
<path d="M677.7 319.8 Q670.6 320 670.2 326 L670.2 390 Q670.6 395.8 677.7 396" fill="none" stroke="#1b1b1b" stroke-width="1.34" />
<path d="M671.2 323.5 L676.8 321.3 M671.2 325.4 L676.8 323.2 M671.2 327.3 L676.8 325.1 M671.2 329.2 L676.8 327 M671.2 331.1 L676.8 328.9 M671.2 333 L676.8 330.8 M671.2 334.9 L676.8 332.7 M671.2 336.8 L676.8 334.6 M671.2 338.7 L676.8 336.5 M671.2 340.6 L676.8 338.4 M671.2 342.5 L676.8 340.3 M671.2 344.4 L676.8 342.2 M671.2 346.3 L676.8 344.1 M671.2 348.2 L676.8 346 M671.2 350.1 L676.8 347.9 M671.2 352 L676.8 349.8 M671.2 353.9 L676.8 351.7 M671.2 355.8 L676.8 353.6 M671.2 357.7 L676.8 355.5 M671.2 359.6 L676.8 357.4 M671.2 361.5 L676.8 359.3 M671.2 363.4 L676.8 361.2 M671.2 365.3 L676.8 363.1 M671.2 367.2 L676.8 365 M671.2 369.1 L676.8 366.9 M671.2 371 L676.8 368.8 M671.2 372.9 L676.8 370.7 M671.2 374.8 L676.8 372.6 M671.2 376.7 L676.8 374.5 M671.2 378.6 L676.8 376.4 M671.2 380.5 L676.8 378.3 M671.2 382.4 L676.8 380.2 M671.2 384.3 L676.8 382.1 M671.2 386.2 L676.8 384 M671.2 388.1 L676.8 385.9 M671.2 390 L676.8 387.8 M671.2 391.9 L676.8 389.7 M671.2 393.8 L676.8 391.6" fill="none" stroke="#1b1b1b" stroke-width="1.63" />
<line x1="674" y1="321" x2="674" y2="328" stroke="#1b1b1b" stroke-width="6.03"/>
<line x1="674" y1="388" x2="674" y2="395" stroke="#1b1b1b" stroke-width="6.03"/>
<rect x="666.4" y="320.8" width="3.8" height="8.4" rx="0" fill="none" stroke="#1b1b1b" stroke-width="1.34"/>
<rect x="666.4" y="386.4" width="3.8" height="8" rx="0" fill="none" stroke="#1b1b1b" stroke-width="1.34"/>
<line x1="677.7" y1="319.8" x2="677.7" y2="396" stroke="#1b1b1b" stroke-width="1.47"/>
<line x1="679.6" y1="319.8" x2="679.6" y2="396" stroke="#1b1b1b" stroke-width="1.21"/>
<line x1="681.9" y1="319.8" x2="681.9" y2="381.9" stroke="#1b1b1b" stroke-width="1.21"/>
<path d="M677.7 319.6 L721.1 319.6 L725.3 323.3" fill="none" stroke="#1b1b1b" stroke-width="1.47" stroke-linejoin="round"/>
<line x1="721.1" y1="319.6" x2="721.1" y2="376.5" stroke="#1b1b1b" stroke-width="1.34"/>
<line x1="719.6" y1="319.6" x2="719.6" y2="377.5" stroke="#1b1b1b" stroke-width="1.07"/>
<line x1="677.7" y1="396" x2="701.2" y2="396" stroke="#1b1b1b" stroke-width="1.47"/>
<path d="M684.6 319.8 L684.6 358.2 Q684.6 361.2 687.6 361.2 L713.8 361.2 Q716.8 361.2 716.8 358.2 L716.8 319.8" fill="none" stroke="#1b1b1b" stroke-width="1.34" />
<circle cx="713.4" cy="357.9" r="2.4" fill="#666" stroke="#1b1b1b" stroke-width="1.21"/>
<line x1="664.5" y1="358" x2="780.3" y2="358" stroke="#1b1b1b" stroke-width="1.34"/>
<rect x="666.4" y="355.6" width="12.2" height="4.8" rx="0" fill="none" stroke="#1b1b1b" stroke-width="1.21"/>
<rect x="765.5" y="355.6" width="11.5" height="4.8" rx="0" fill="none" stroke="#1b1b1b" stroke-width="1.21"/>
<line x1="746" y1="323.5" x2="763.3" y2="323.5" stroke="#1b1b1b" stroke-width="1.47"/>
<line x1="763.3" y1="323.5" x2="763.3" y2="392.3" stroke="#1b1b1b" stroke-width="1.34"/>
<line x1="765" y1="323.5" x2="765" y2="392.3" stroke="#1b1b1b" stroke-width="1.21"/>
<path d="M765 323.5 Q771 323.8 771.2 329 L771.2 386 Q771 391.5 765 392.3" fill="none" stroke="#1b1b1b" stroke-width="1.34" />
<path d="M766.6 327.1 L770.8 325.5 M766.6 328.8 L770.8 327.2 M766.6 330.5 L770.8 328.9 M766.6 332.2 L770.8 330.6 M766.6 333.9 L770.8 332.3 M766.6 335.6 L770.8 334 M766.6 337.3 L770.8 335.7 M766.6 339 L770.8 337.4 M766.6 340.7 L770.8 339.1 M766.6 342.4 L770.8 340.8 M766.6 344.1 L770.8 342.5 M766.6 345.8 L770.8 344.2 M766.6 347.5 L770.8 345.9 M766.6 349.2 L770.8 347.6 M766.6 350.9 L770.8 349.3 M766.6 352.6 L770.8 351 M766.6 354.3 L770.8 352.7 M766.6 356 L770.8 354.4 M766.6 357.7 L770.8 356.1 M766.6 359.4 L770.8 357.8 M766.6 361.1 L770.8 359.5 M766.6 362.8 L770.8 361.2 M766.6 364.5 L770.8 362.9 M766.6 366.2 L770.8 364.6 M766.6 367.9 L770.8 366.3 M766.6 369.6 L770.8 368 M766.6 371.3 L770.8 369.7 M766.6 373 L770.8 371.4 M766.6 374.7 L770.8 373.1 M766.6 376.4 L770.8 374.8 M766.6 378.1 L770.8 376.5 M766.6 379.8 L770.8 378.2 M766.6 381.5 L770.8 379.9 M766.6 383.2 L770.8 381.6 M766.6 384.9 L770.8 383.3 M766.6 386.6 L770.8 385 M766.6 388.3 L770.8 386.7 M766.6 390 L770.8 388.4" fill="none" stroke="#1b1b1b" stroke-width="1.61" />
<line x1="768.6" y1="325" x2="768.6" y2="332" stroke="#1b1b1b" stroke-width="4.29"/>
<line x1="768.6" y1="384" x2="768.6" y2="391" stroke="#1b1b1b" stroke-width="4.29"/>
<rect x="771.2" y="323.6" width="4.4" height="10.2" rx="0" fill="none" stroke="#1b1b1b" stroke-width="1.34"/>
<rect x="771.2" y="382.6" width="4.4" height="9.7" rx="0" fill="none" stroke="#1b1b1b" stroke-width="1.34"/>
<line x1="753" y1="392.3" x2="765" y2="392.3" stroke="#1b1b1b" stroke-width="1.47"/>
<circle cx="736" cy="334.8" r="13.1" fill="#fff" stroke="#1b1b1b" stroke-width="1.61"/>
<circle cx="736" cy="334.8" r="10.7" fill="none" stroke="#1b1b1b" stroke-width="1.34"/>
<circle cx="736" cy="334.8" r="7.6" fill="none" stroke="#1b1b1b" stroke-width="1.61"/>
<line x1="733.1" y1="328" x2="733.1" y2="342" stroke="#1b1b1b" stroke-width="1.21"/>
<path d="M727.6 347.2 L727.6 358 L743.2 358 L743.2 345.5" fill="none" stroke="#1b1b1b" stroke-width="1.21" stroke-linejoin="round"/>
<path d="M732.7 351.2 L730 356.3 L735.4 356.3 Z" fill="none" stroke="#1b1b1b" stroke-width="1.21" stroke-linejoin="round"/>
<line x1="732.7" y1="353" x2="732.7" y2="355.4" stroke="#1b1b1b" stroke-width="1.07"/>
<rect x="680.5" y="381.9" width="20.7" height="12.2" rx="0" fill="none" stroke="#1b1b1b" stroke-width="1.34"/>
<rect x="682.6" y="394.1" width="14" height="4.8" rx="0" fill="none" stroke="#1b1b1b" stroke-width="1.21"/>
<rect x="684.3" y="395.6" width="5.5" height="2" rx="1" fill="none" stroke="#1b1b1b" stroke-width="0.94"/>
<path d="M686.2 384.8 l2 0 M687.4 386.6 l0 3.2 M685.9 389.1 l3 0" fill="none" stroke="#1b1b1b" stroke-width="1.47" />
<path d="M701 398.9 L701 380 A7.55 7.55 0 1 1 714.9 383.6 L711.2 388.2 L710.4 394" fill="none" stroke="#1b1b1b" stroke-width="1.34" />
<circle cx="705.9" cy="393.6" r="4.4" fill="#fff" stroke="#1b1b1b" stroke-width="1.34"/>
<circle cx="705.9" cy="393.6" r="2.6" fill="none" stroke="#1b1b1b" stroke-width="1.21"/>
<circle cx="705.9" cy="393.6" r="1" fill="none" stroke="#1b1b1b" stroke-width="1.07"/>
<line x1="696.5" y1="398.9" x2="712" y2="398.9" stroke="#1b1b1b" stroke-width="1.34"/>
<path d="M711.8 396.5 L716.3 384.5 Q718.5 376 728 375.3 Q738 375.3 743.6 381.9 L753 392.3" fill="none" stroke="#1b1b1b" stroke-width="1.34" />
<path d="M716.8 381.9 L743.6 381.9 L743.6 392.3 L713.8 392.3" fill="none" stroke="#1b1b1b" stroke-width="1.34" />
<circle cx="722.5" cy="386.8" r="3.7" fill="none" stroke="#1b1b1b" stroke-width="1.34"/>
<line x1="719.6" y1="386.8" x2="725.4" y2="386.8" stroke="#1b1b1b" stroke-width="1.07"/>
<circle cx="737.6" cy="386.8" r="4" fill="none" stroke="#1b1b1b" stroke-width="1.34"/>
<circle cx="737.6" cy="386.8" r="2.2" fill="none" stroke="#1b1b1b" stroke-width="1.07"/>
<path d="M735.8 385 l3.6 3.6 M739.4 385 l-3.6 3.6" fill="none" stroke="#1b1b1b" stroke-width="0.94" />
<rect x="729.6" y="382.6" width="2.4" height="2.4" rx="0" fill="#1b1b1b" stroke="#1b1b1b" stroke-width="0.67"/>
<path d="M752.4 392.3 L752.4 399.8" fill="none" stroke="#1b1b1b" stroke-width="1.34" stroke-linejoin="round"/>
<path d="M763.3 392.3 L763.3 398.5 L759.6 399.8" fill="none" stroke="#1b1b1b" stroke-width="1.34" stroke-linejoin="round"/>
<line x1="712.5" y1="396.8" x2="752.4" y2="396.8" stroke="#1b1b1b" stroke-width="1.21"/>
<rect x="690.5" y="399.8" width="69.1" height="24.5" rx="0" fill="none" stroke="#1b1b1b" stroke-width="1.47"/>
<rect x="717.2" y="400.6" width="15.4" height="23.7" rx="0" fill="none" stroke="#1b1b1b" stroke-width="1.21"/>
<line x1="717.2" y1="410.6" x2="725.2" y2="410.6" stroke="#1b1b1b" stroke-width="1.21"/>
<circle cx="721.7" cy="405.3" r="3.3" fill="#555" stroke="#1b1b1b" stroke-width="1.34"/>
<circle cx="728.9" cy="405.4" r="1.4" fill="none" stroke="#1b1b1b" stroke-width="1.07"/>
<circle cx="725.1" cy="418.6" r="2.3" fill="#333" stroke="#1b1b1b" stroke-width="0.8"/>
</g>
<path d="M718.9 948.6 L718.9 950 Q718.9 957 733.6 963.4 L759.4 963.4 Q774.1 957 774.1 950 L774.1 948.6" fill="none" stroke="#1b1b1b" stroke-width="1.34" />
<line x1="720.3" y1="955.4" x2="772.7" y2="955.4" stroke="#1b1b1b" stroke-width="1.07"/>
<line x1="733.6" y1="963.4" x2="733.6" y2="970.8" stroke="#1b1b1b" stroke-width="1.34"/>
<line x1="759.4" y1="963.4" x2="759.4" y2="970.8" stroke="#1b1b1b" stroke-width="1.34"/>
<line x1="729.8" y1="970.8" x2="762.2" y2="970.8" stroke="#1b1b1b" stroke-width="1.21"/>
<line x1="729.8" y1="981" x2="762.2" y2="981" stroke="#1b1b1b" stroke-width="1.21"/>
<line x1="729.8" y1="1017.6" x2="762.2" y2="1017.6" stroke="#1b1b1b" stroke-width="1.21"/>
<line x1="729.8" y1="1026.4" x2="762.2" y2="1026.4" stroke="#1b1b1b" stroke-width="1.21"/>
<rect x="693.8" y="970.1" width="5.5" height="19.2" rx="1.5" fill="#fff" stroke="#1b1b1b" stroke-width="1.34"/>
<rect x="685.5" y="976.8" width="7.5" height="10" rx="2" fill="#fff" stroke="#1b1b1b" stroke-width="1.34"/>
<line x1="688" y1="976.8" x2="688" y2="986.8" stroke="#1b1b1b" stroke-width="1.07"/>
<line x1="690.2" y1="976.8" x2="690.2" y2="986.8" stroke="#1b1b1b" stroke-width="1.07"/>
<rect x="692.2" y="1008.6" width="7.1" height="18.4" rx="3" fill="#fff" stroke="#1b1b1b" stroke-width="1.34"/>
<rect x="699.3" y="965.5" width="30.5" height="66.1" rx="1.5" fill="#fff" stroke="#1b1b1b" stroke-width="1.47"/>
<line x1="709.7" y1="965.5" x2="709.7" y2="985" stroke="#1b1b1b" stroke-width="1.21"/>
<line x1="709.7" y1="1012" x2="709.7" y2="1031.6" stroke="#1b1b1b" stroke-width="1.21"/>
<line x1="699.3" y1="970.9" x2="709.7" y2="970.9" stroke="#1b1b1b" stroke-width="1.07"/>
<line x1="699.3" y1="979.3" x2="709.7" y2="979.3" stroke="#1b1b1b" stroke-width="1.07"/>
<line x1="699.3" y1="1017" x2="709.7" y2="1017" stroke="#1b1b1b" stroke-width="1.07"/>
<line x1="699.3" y1="1025.3" x2="709.7" y2="1025.3" stroke="#1b1b1b" stroke-width="1.07"/>
<line x1="700.5" y1="985" x2="700.5" y2="1010" stroke="#1b1b1b" stroke-width="1.21"/>
<line x1="705.5" y1="985" x2="705.5" y2="1010" stroke="#1b1b1b" stroke-width="1.21"/>
<path d="M729.8 983.5 L735.3 989.3 L735.3 1007.7 L729.8 1013.6" fill="#fff" stroke="#1b1b1b" stroke-width="1.47" stroke-linejoin="round"/>
<path d="M709.7 985 L705.02 989.5 L705.02 1007.5 L709.7 1012" fill="none" stroke="#1b1b1b" stroke-width="1.21" stroke-linejoin="round"/>
<circle cx="720.6" cy="978.5" r="8.3" fill="#fff" stroke="#1b1b1b" stroke-width="2.14"/>
<circle cx="720.6" cy="1019" r="8.3" fill="#fff" stroke="#1b1b1b" stroke-width="2.14"/>
<circle cx="719.8" cy="998.6" r="10.2" fill="#fff" stroke="#1b1b1b" stroke-width="1.34"/>
<circle cx="719.8" cy="998.6" r="8.8" fill="none" stroke="#1b1b1b" stroke-width="1.21"/>
<circle cx="719.8" cy="998.6" r="6.3" fill="none" stroke="#1b1b1b" stroke-width="2.01"/>
<line x1="720.6" y1="963.4" x2="720.6" y2="1036" stroke="#1b1b1b" stroke-width="1.34"/>
<rect x="790.2" y="974.3" width="8.4" height="15" rx="1.5" fill="#fff" stroke="#1b1b1b" stroke-width="1.34"/>
<line x1="790.2" y1="981.6" x2="798.6" y2="981.6" stroke="#1b1b1b" stroke-width="1.07"/>
<rect x="799.8" y="976.8" width="7.5" height="9.2" rx="2" fill="#fff" stroke="#1b1b1b" stroke-width="1.34"/>
<line x1="802.6" y1="976.8" x2="802.6" y2="986" stroke="#1b1b1b" stroke-width="1.07"/>
<line x1="804.8" y1="976.8" x2="804.8" y2="986" stroke="#1b1b1b" stroke-width="1.07"/>
<rect x="789.4" y="1008.6" width="10.8" height="15" rx="3" fill="#fff" stroke="#1b1b1b" stroke-width="1.34"/>
<line x1="789.4" y1="1015.6" x2="800.2" y2="1015.6" stroke="#1b1b1b" stroke-width="1.07"/>
<rect x="762.2" y="965.5" width="28" height="66.1" rx="1.5" fill="#fff" stroke="#1b1b1b" stroke-width="1.47"/>
<line x1="783.1" y1="965.5" x2="783.1" y2="985" stroke="#1b1b1b" stroke-width="1.21"/>
<line x1="783.1" y1="1012" x2="783.1" y2="1031.6" stroke="#1b1b1b" stroke-width="1.21"/>
<line x1="783.1" y1="970.9" x2="790.2" y2="970.9" stroke="#1b1b1b" stroke-width="1.07"/>
<line x1="783.1" y1="979.3" x2="790.2" y2="979.3" stroke="#1b1b1b" stroke-width="1.07"/>
<line x1="783.1" y1="1017" x2="790.2" y2="1017" stroke="#1b1b1b" stroke-width="1.07"/>
<line x1="783.1" y1="1025.3" x2="790.2" y2="1025.3" stroke="#1b1b1b" stroke-width="1.07"/>
<line x1="791.4" y1="985" x2="791.4" y2="1010" stroke="#1b1b1b" stroke-width="1.21"/>
<line x1="786.8" y1="985" x2="786.8" y2="1010" stroke="#1b1b1b" stroke-width="1.21"/>
<path d="M762.2 983.5 L756.3 989.3 L756.3 1007.7 L762.2 1013.6" fill="#fff" stroke="#1b1b1b" stroke-width="1.47" stroke-linejoin="round"/>
<path d="M783.1 985 L786.3 989.5 L786.3 1007.5 L783.1 1012" fill="none" stroke="#1b1b1b" stroke-width="1.21" stroke-linejoin="round"/>
<circle cx="771.6" cy="978.5" r="8.3" fill="#fff" stroke="#1b1b1b" stroke-width="2.14"/>
<circle cx="771.6" cy="1019" r="8.3" fill="#fff" stroke="#1b1b1b" stroke-width="2.14"/>
<circle cx="770.9" cy="998.6" r="10.2" fill="#fff" stroke="#1b1b1b" stroke-width="1.34"/>
<circle cx="770.9" cy="998.6" r="8.8" fill="none" stroke="#1b1b1b" stroke-width="1.21"/>
<circle cx="770.9" cy="998.6" r="6.3" fill="none" stroke="#1b1b1b" stroke-width="2.01"/>
<line x1="771.6" y1="963.4" x2="771.6" y2="1036" stroke="#1b1b1b" stroke-width="1.34"/>
<line x1="746.6" y1="814" x2="746.6" y2="1037" stroke="#1b1b1b" stroke-width="1.12" stroke-dasharray="28 1.7 2 1.6 300"/>
<line x1="757.2" y1="814" x2="757.2" y2="874.5" stroke="#1b1b1b" stroke-width="1.12" stroke-dasharray="28 1.7 2 1.6 300"/>
<line x1="695.4" y1="998.8" x2="798" y2="998.8" stroke="#1b1b1b" stroke-width="1.12"/>
<line x1="689.7" y1="787.8" x2="689.7" y2="880" stroke="#1b1b1b" stroke-width="1.12"/>
<line x1="795.9" y1="787.8" x2="795.9" y2="879.5" stroke="#1b1b1b" stroke-width="1.12"/>
<line x1="689.7" y1="793.9" x2="795.9" y2="793.9" stroke="#1b1b1b" stroke-width="1.12"/>
<path d="M689.7 793.9 L699.7 791 L697.5 793.9 L699.7 796.8 Z" fill="#1b1b1b" stroke="#1b1b1b" stroke-width="0.4"/>
<path d="M795.9 793.9 L785.9 796.8 L788.1 793.9 L785.9 791 Z" fill="#1b1b1b" stroke="#1b1b1b" stroke-width="0.4"/>
<text x="0" y="0" transform="translate(741.9 787.4) scale(1.1 1)" font-family='"Liberation Sans", "Noto Sans CJK SC", sans-serif' font-size="14" text-anchor="middle" fill="#1b1b1b" stroke="#1b1b1b" stroke-width="0.12">110(4.33)</text>
<line x1="697" y1="823.3" x2="795.9" y2="823.3" stroke="#1b1b1b" stroke-width="1.12"/>
<path d="M746.6 823.3 L736.6 826.2 L738.8 823.3 L736.6 820.4 Z" fill="#1b1b1b" stroke="#1b1b1b" stroke-width="0.4"/>
<path d="M757.7 823.3 L767.7 820.4 L765.5 823.3 L767.7 826.2 Z" fill="#1b1b1b" stroke="#1b1b1b" stroke-width="0.4"/>
<path d="M795.9 823.3 L785.9 826.2 L788.1 823.3 L785.9 820.4 Z" fill="#1b1b1b" stroke="#1b1b1b" stroke-width="0.4"/>
<text x="0" y="0" transform="translate(716.8 819.6) scale(1.1 1)" font-family='"Liberation Sans", "Noto Sans CJK SC", sans-serif' font-size="14" text-anchor="middle" fill="#1b1b1b" stroke="#1b1b1b" stroke-width="0.12">12</text>
<text x="0" y="0" transform="translate(717.4 839.2) scale(1.1 1)" font-family='"Liberation Sans", "Noto Sans CJK SC", sans-serif' font-size="14" text-anchor="middle" fill="#1b1b1b" stroke="#1b1b1b" stroke-width="0.12">(0.47)</text>
<text x="0" y="0" transform="translate(776 819.6) scale(1.1 1)" font-family='"Liberation Sans", "Noto Sans CJK SC", sans-serif' font-size="14" text-anchor="middle" fill="#1b1b1b" stroke="#1b1b1b" stroke-width="0.12">39</text>
<text x="0" y="0" transform="translate(776.7 839.2) scale(1.1 1)" font-family='"Liberation Sans", "Noto Sans CJK SC", sans-serif' font-size="14" text-anchor="middle" fill="#1b1b1b" stroke="#1b1b1b" stroke-width="0.12">(1.54)</text>
<line x1="655" y1="848.4" x2="692.2" y2="848.4" stroke="#1b1b1b" stroke-width="1.12"/>
<line x1="655" y1="922.1" x2="701.7" y2="922.1" stroke="#1b1b1b" stroke-width="1.12"/>
<line x1="665.9" y1="848.4" x2="665.9" y2="922.1" stroke="#1b1b1b" stroke-width="1.12"/>
<path d="M665.9 848.4 L668.8 858.4 L665.9 856.2 L663 858.4 Z" fill="#1b1b1b" stroke="#1b1b1b" stroke-width="0.4"/>
<path d="M665.9 922.1 L663 912.1 L665.9 914.3 L668.8 912.1 Z" fill="#1b1b1b" stroke="#1b1b1b" stroke-width="0.4"/>
<text x="0" y="0" transform="translate(656.8 885.5) rotate(-90) scale(1.1 1)" font-family='"Liberation Sans", "Noto Sans CJK SC", sans-serif' font-size="14" text-anchor="middle" fill="#1b1b1b" stroke="#1b1b1b" stroke-width="0.12">ø78(3.07)</text>
<line x1="792.5" y1="852.2" x2="829.7" y2="852.2" stroke="#1b1b1b" stroke-width="1.12"/>
<line x1="796.5" y1="918.5" x2="829.7" y2="918.5" stroke="#1b1b1b" stroke-width="1.12"/>
<line x1="819" y1="852.2" x2="819" y2="918.5" stroke="#1b1b1b" stroke-width="1.12"/>
<path d="M819 852.2 L821.9 862.2 L819 860 L816.1 862.2 Z" fill="#1b1b1b" stroke="#1b1b1b" stroke-width="0.4"/>
<path d="M819 918.5 L816.1 908.5 L819 910.7 L821.9 908.5 Z" fill="#1b1b1b" stroke="#1b1b1b" stroke-width="0.4"/>
<text x="0" y="0" transform="translate(816 885.6) rotate(-90) scale(1.1 1)" font-family='"Liberation Sans", "Noto Sans CJK SC", sans-serif' font-size="14" text-anchor="middle" fill="#1b1b1b" stroke="#1b1b1b" stroke-width="0.12">ø70</text>
<text x="0" y="0" transform="translate(832.4 885.6) rotate(-90) scale(1.1 1)" font-family='"Liberation Sans", "Noto Sans CJK SC", sans-serif' font-size="14" text-anchor="middle" fill="#1b1b1b" stroke="#1b1b1b" stroke-width="0.12">(2.76)</text>
<line x1="777.5" y1="863.2" x2="866.6" y2="863.2" stroke="#1b1b1b" stroke-width="1.12"/>
<line x1="859.8" y1="863.2" x2="859.8" y2="998.8" stroke="#1b1b1b" stroke-width="1.12"/>
<path d="M859.8 863.2 L862.7 873.2 L859.8 871 L856.9 873.2 Z" fill="#1b1b1b" stroke="#1b1b1b" stroke-width="0.4"/>
<path d="M859.8 998.8 L856.9 988.8 L859.8 991 L862.7 988.8 Z" fill="#1b1b1b" stroke="#1b1b1b" stroke-width="0.4"/>
<text x="0" y="0" transform="translate(854.2 930.2) rotate(-90) scale(1.1 1)" font-family='"Liberation Sans", "Noto Sans CJK SC", sans-serif' font-size="14" text-anchor="middle" fill="#1b1b1b" stroke="#1b1b1b" stroke-width="0.12">143(5.63)</text>
<line x1="801" y1="998.8" x2="866.6" y2="998.8" stroke="#1b1b1b" stroke-width="1.12"/>
<line x1="720.7" y1="1041" x2="720.7" y2="1069" stroke="#1b1b1b" stroke-width="1.12"/>
<line x1="772.3" y1="1041" x2="772.3" y2="1069" stroke="#1b1b1b" stroke-width="1.12"/>
<line x1="720.7" y1="1059" x2="772.3" y2="1059" stroke="#1b1b1b" stroke-width="1.12"/>
<path d="M720.7 1059 L730.7 1056.1 L728.5 1059 L730.7 1061.9 Z" fill="#1b1b1b" stroke="#1b1b1b" stroke-width="0.4"/>
<path d="M772.3 1059 L762.3 1061.9 L764.5 1059 L762.3 1056.1 Z" fill="#1b1b1b" stroke="#1b1b1b" stroke-width="0.4"/>
<text x="0" y="0" transform="translate(746.3 1055.7) scale(1.1 1)" font-family='"Liberation Sans", "Noto Sans CJK SC", sans-serif' font-size="14" text-anchor="middle" fill="#1b1b1b" stroke="#1b1b1b" stroke-width="0.12">54</text>
<text x="0" y="0" transform="translate(746.3 1074.8) scale(1.1 1)" font-family='"Liberation Sans", "Noto Sans CJK SC", sans-serif' font-size="14" text-anchor="middle" fill="#1b1b1b" stroke="#1b1b1b" stroke-width="0.12">(2.13)</text>
<line x1="685.6" y1="988.9" x2="685.6" y2="1113.4" stroke="#1b1b1b" stroke-width="1.12"/>
<line x1="807.2" y1="988" x2="807.2" y2="1113.4" stroke="#1b1b1b" stroke-width="1.12"/>
<line x1="685.6" y1="1106.1" x2="807.2" y2="1106.1" stroke="#1b1b1b" stroke-width="1.12"/>
<path d="M685.6 1106.1 L695.6 1103.2 L693.4 1106.1 L695.6 1109 Z" fill="#1b1b1b" stroke="#1b1b1b" stroke-width="0.4"/>
<path d="M807.2 1106.1 L797.2 1109 L799.4 1106.1 L797.2 1103.2 Z" fill="#1b1b1b" stroke="#1b1b1b" stroke-width="0.4"/>
<text x="0" y="0" transform="translate(741.5 1100.6) scale(1.1 1)" font-family='"Liberation Sans", "Noto Sans CJK SC", sans-serif' font-size="14" text-anchor="middle" fill="#1b1b1b" stroke="#1b1b1b" stroke-width="0.12">133(5.24)</text>
<text x="0" y="0" transform="translate(784.6 1096) scale(1.1 1)" font-family='"Liberation Sans", "Noto Sans CJK SC", sans-serif' font-size="10.5" text-anchor="middle" fill="#1b1b1b" stroke="#1b1b1b" stroke-width="0.12">*1</text>
<text x="658.3" y="1066.5" font-family='"Noto Serif CJK SC", "Liberation Serif", serif' font-size="16.8" text-anchor="start" fill="#1b1b1b" >高</text>
<text x="658.3" y="1087.1" font-family='"Noto Serif CJK SC", "Liberation Serif", serif' font-size="16.8" text-anchor="start" fill="#1b1b1b" >压</text>
<text x="658.3" y="1107.7" font-family='"Noto Serif CJK SC", "Liberation Serif", serif' font-size="16.8" text-anchor="start" fill="#1b1b1b" >侧</text>
<text x="820.5" y="1066.5" font-family='"Noto Serif CJK SC", "Liberation Serif", serif' font-size="16.8" text-anchor="start" fill="#1b1b1b" >低</text>
<text x="820.5" y="1087.1" font-family='"Noto Serif CJK SC", "Liberation Serif", serif' font-size="16.8" text-anchor="start" fill="#1b1b1b" >压</text>
<text x="820.5" y="1107.7" font-family='"Noto Serif CJK SC", "Liberation Serif", serif' font-size="16.8" text-anchor="start" fill="#1b1b1b" >侧</text>
<text x="621.3" y="801.8" font-family='"Noto Serif CJK SC", "Liberation Serif", serif' font-size="16.2" text-anchor="start" fill="#1b1b1b" >调零</text>
<line x1="617.2" y1="806.4" x2="656.6" y2="806.4" stroke="#1b1b1b" stroke-width="1.12"/>
<line x1="656.6" y1="806.4" x2="723.4" y2="906.6" stroke="#1b1b1b" stroke-width="1.12"/>
<path d="M723.4 906.6 L715.44 899.89 L719.07 900.11 L720.27 896.67 Z" fill="#1b1b1b" stroke="#1b1b1b" stroke-width="0.4"/>
<text x="597" y="944.5" font-family='"Noto Serif CJK SC", "Liberation Serif", serif' font-size="16.4" text-anchor="start" fill="#1b1b1b" >接地端子</text>
<line x1="590" y1="948.8" x2="667.9" y2="948.8" stroke="#1b1b1b" stroke-width="1.12"/>
<line x1="667.9" y1="948.8" x2="753.2" y2="916.9" stroke="#1b1b1b" stroke-width="1.12"/>
<path d="M753.2 916.9 L744.85 923.12 L745.89 919.63 L742.82 917.69 Z" fill="#1b1b1b" stroke="#1b1b1b" stroke-width="0.4"/>
<text x="862.4" y="1015.6" font-family='"Noto Serif CJK SC", "Liberation Serif", serif' font-size="16.6" text-anchor="start" fill="#1b1b1b" >排气塞</text>
<path d="M917.9 1020.9 L860.5 1020.9 Q852 1018 809.2 983" fill="none" stroke="#1b1b1b" stroke-width="1.12" />
<path d="M809.2 983 L818.78 987.09 L815.24 987.94 L815.11 991.58 Z" fill="#1b1b1b" stroke="#1b1b1b" stroke-width="0.4"/>
<text x="854.6" y="1049.4" font-family='"Noto Serif CJK SC", "Liberation Serif", serif' font-size="16.6" text-anchor="start" fill="#1b1b1b" >排液塞</text>
<path d="M907.6 1054.3 L851.2 1054.3 Q843 1050 803.1 1018.9" fill="none" stroke="#1b1b1b" stroke-width="1.12" />
<path d="M803.1 1018.9 L812.77 1022.75 L809.26 1023.69 L809.21 1027.33 Z" fill="#1b1b1b" stroke="#1b1b1b" stroke-width="0.4"/>
</svg>
</body>
</html>
